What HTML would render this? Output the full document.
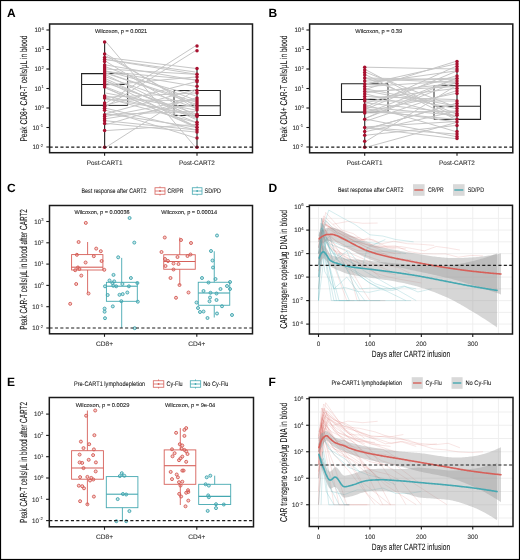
<!DOCTYPE html>
<html><head><meta charset="utf-8"><style>
html,body{margin:0;padding:0;background:#fff;}
svg{display:block;font-family:"Liberation Sans", sans-serif;will-change:transform;}
text{stroke-linejoin:round;text-rendering:geometricPrecision;}
.fr{position:absolute;left:0;top:0;width:518px;height:558px;border:1px solid #000;}
</style></head><body>
<svg width="520" height="560" viewBox="0 0 520 560" font-family='"Liberation Sans", sans-serif'>
<rect x="0" y="0" width="520" height="560" fill="#fff"/>
<text x="7.00" y="17.00" font-size="12" text-anchor="start" fill="#000" font-weight="bold">A</text>
<text x="26.80" y="88.60" font-size="9.8" text-anchor="middle" fill="#111" stroke="#111" stroke-width="0.08" textLength="106.0" lengthAdjust="spacingAndGlyphs" transform="rotate(-90 26.80 88.60)">Peak CD8+ CAR-T cells/μL in blood</text>
<line x1="46.40" y1="147.00" x2="49.60" y2="147.00" stroke="#1a1a1a" stroke-width="1.1"/>
<text x="39.30" y="149.30" font-size="6.3" text-anchor="end" fill="#333" stroke="#333" stroke-width="0.12" textLength="6.9" lengthAdjust="spacingAndGlyphs">10</text>
<text x="39.40" y="146.80" font-size="4.2" text-anchor="start" fill="#333" stroke="#333" stroke-width="0.08">-2</text>
<line x1="46.40" y1="127.50" x2="49.60" y2="127.50" stroke="#1a1a1a" stroke-width="1.1"/>
<text x="39.30" y="129.80" font-size="6.3" text-anchor="end" fill="#333" stroke="#333" stroke-width="0.12" textLength="6.9" lengthAdjust="spacingAndGlyphs">10</text>
<text x="39.40" y="127.30" font-size="4.2" text-anchor="start" fill="#333" stroke="#333" stroke-width="0.08">-1</text>
<line x1="46.40" y1="108.00" x2="49.60" y2="108.00" stroke="#1a1a1a" stroke-width="1.1"/>
<text x="41.30" y="110.30" font-size="6.3" text-anchor="end" fill="#333" stroke="#333" stroke-width="0.12" textLength="6.9" lengthAdjust="spacingAndGlyphs">10</text>
<text x="41.40" y="107.80" font-size="4.2" text-anchor="start" fill="#333" stroke="#333" stroke-width="0.08">0</text>
<line x1="46.40" y1="88.50" x2="49.60" y2="88.50" stroke="#1a1a1a" stroke-width="1.1"/>
<text x="41.30" y="90.80" font-size="6.3" text-anchor="end" fill="#333" stroke="#333" stroke-width="0.12" textLength="6.9" lengthAdjust="spacingAndGlyphs">10</text>
<text x="41.40" y="88.30" font-size="4.2" text-anchor="start" fill="#333" stroke="#333" stroke-width="0.08">1</text>
<line x1="46.40" y1="69.00" x2="49.60" y2="69.00" stroke="#1a1a1a" stroke-width="1.1"/>
<text x="41.30" y="71.30" font-size="6.3" text-anchor="end" fill="#333" stroke="#333" stroke-width="0.12" textLength="6.9" lengthAdjust="spacingAndGlyphs">10</text>
<text x="41.40" y="68.80" font-size="4.2" text-anchor="start" fill="#333" stroke="#333" stroke-width="0.08">2</text>
<line x1="46.40" y1="49.50" x2="49.60" y2="49.50" stroke="#1a1a1a" stroke-width="1.1"/>
<text x="41.30" y="51.80" font-size="6.3" text-anchor="end" fill="#333" stroke="#333" stroke-width="0.12" textLength="6.9" lengthAdjust="spacingAndGlyphs">10</text>
<text x="41.40" y="49.30" font-size="4.2" text-anchor="start" fill="#333" stroke="#333" stroke-width="0.08">3</text>
<line x1="46.40" y1="30.00" x2="49.60" y2="30.00" stroke="#1a1a1a" stroke-width="1.1"/>
<text x="41.30" y="32.30" font-size="6.3" text-anchor="end" fill="#333" stroke="#333" stroke-width="0.12" textLength="6.9" lengthAdjust="spacingAndGlyphs">10</text>
<text x="41.40" y="29.80" font-size="4.2" text-anchor="start" fill="#333" stroke="#333" stroke-width="0.08">4</text>
<line x1="104.60" y1="152.70" x2="104.60" y2="155.70" stroke="#1a1a1a" stroke-width="1.1"/>
<text x="104.60" y="164.60" font-size="6.5" text-anchor="middle" fill="#333" stroke="#333" stroke-width="0.1" textLength="35.8" lengthAdjust="spacingAndGlyphs">Post-CART1</text>
<line x1="197.00" y1="152.70" x2="197.00" y2="155.70" stroke="#1a1a1a" stroke-width="1.1"/>
<text x="197.00" y="164.60" font-size="6.5" text-anchor="middle" fill="#333" stroke="#333" stroke-width="0.1" textLength="35.8" lengthAdjust="spacingAndGlyphs">Post-CART2</text>
<path d="M104.60,73.60 H81.60 V105.40 H104.60 M81.60,84.50 H104.60" stroke="#222" stroke-width="1.1" fill="none"/>
<path d="M104.60,73.60 H127.70 V105.40 H104.60 M104.60,84.50 H127.70" stroke="#2a2a2a" stroke-width="1.0" fill="none"/>
<path d="M197.00,90.50 H220.30 V115.50 H197.00 M220.30,105.70 H197.00" stroke="#222" stroke-width="1.1" fill="none"/>
<path d="M197.00,90.50 H174.00 V115.50 H197.00 M197.00,105.70 H174.00" stroke="#2a2a2a" stroke-width="1.0" fill="none"/>
<line x1="104.60" y1="42.00" x2="104.60" y2="147.20" stroke="#333" stroke-width="1.2"/>
<line x1="197.00" y1="68.40" x2="197.00" y2="147.20" stroke="#333" stroke-width="1.2"/>
<path d="M106.10,42.00L195.50,147.20M106.10,147.20L195.50,90.00M106.10,103.00L195.50,45.90M106.10,106.50L195.50,50.70M106.10,57.50L195.50,68.40M106.10,59.50L195.50,72.02M106.10,59.59L195.50,74.16M106.10,69.00L195.50,74.30M106.10,85.00L195.50,77.00M106.10,71.66L195.50,79.79M106.10,65.00L195.50,80.20M106.10,105.00L195.50,81.80M106.10,71.40L195.50,86.30M106.10,113.55L195.50,89.58M106.10,97.27L195.50,93.00M106.10,71.00L195.50,95.67M106.10,124.70L195.50,98.00M106.10,116.40L195.50,98.90M106.10,67.00L195.50,100.00M106.10,99.73L195.50,100.73M106.10,73.00L195.50,102.00M106.10,73.15L195.50,104.00M106.10,118.70L195.50,104.01M106.10,55.92L195.50,106.00M106.10,77.00L195.50,108.00M106.10,54.00L195.50,108.42M106.10,93.10L195.50,110.00M106.10,114.70L195.50,111.27M106.10,83.00L195.50,113.64M106.10,98.80L195.50,114.30M106.10,61.50L195.50,116.40M106.10,96.00L195.50,116.42M106.10,80.90L195.50,116.72M106.10,75.00L195.50,118.18M106.10,79.00L195.50,119.28M106.10,87.00L195.50,122.06M106.10,98.00L195.50,122.30M106.10,130.60L195.50,124.50M106.10,88.34L195.50,126.26M106.10,81.00L195.50,126.42M106.10,87.92L195.50,127.12M106.10,113.62L195.50,127.20M106.10,108.30L195.50,129.80M106.10,120.80L195.50,129.87M106.10,123.40L195.50,132.00M106.10,110.30L195.50,137.90" stroke="#c6c6c6" stroke-width="1.0" fill="none"/>
<circle cx="104.60" cy="42.00" r="1.75" fill="#A8102F" stroke="none" stroke-width="1"/>
<circle cx="104.60" cy="54.00" r="1.75" fill="#A8102F" stroke="none" stroke-width="1"/>
<circle cx="104.60" cy="57.50" r="1.75" fill="#A8102F" stroke="none" stroke-width="1"/>
<circle cx="104.60" cy="59.50" r="1.75" fill="#A8102F" stroke="none" stroke-width="1"/>
<circle cx="104.60" cy="61.50" r="1.75" fill="#A8102F" stroke="none" stroke-width="1"/>
<circle cx="104.60" cy="65.00" r="1.75" fill="#A8102F" stroke="none" stroke-width="1"/>
<circle cx="104.60" cy="67.00" r="1.75" fill="#A8102F" stroke="none" stroke-width="1"/>
<circle cx="104.60" cy="69.00" r="1.75" fill="#A8102F" stroke="none" stroke-width="1"/>
<circle cx="104.60" cy="71.00" r="1.75" fill="#A8102F" stroke="none" stroke-width="1"/>
<circle cx="104.60" cy="73.00" r="1.75" fill="#A8102F" stroke="none" stroke-width="1"/>
<circle cx="104.60" cy="75.00" r="1.75" fill="#A8102F" stroke="none" stroke-width="1"/>
<circle cx="104.60" cy="77.00" r="1.75" fill="#A8102F" stroke="none" stroke-width="1"/>
<circle cx="104.60" cy="79.00" r="1.75" fill="#A8102F" stroke="none" stroke-width="1"/>
<circle cx="104.60" cy="81.00" r="1.75" fill="#A8102F" stroke="none" stroke-width="1"/>
<circle cx="104.60" cy="83.00" r="1.75" fill="#A8102F" stroke="none" stroke-width="1"/>
<circle cx="104.60" cy="85.00" r="1.75" fill="#A8102F" stroke="none" stroke-width="1"/>
<circle cx="104.60" cy="87.00" r="1.75" fill="#A8102F" stroke="none" stroke-width="1"/>
<circle cx="104.60" cy="96.00" r="1.75" fill="#A8102F" stroke="none" stroke-width="1"/>
<circle cx="104.60" cy="98.00" r="1.75" fill="#A8102F" stroke="none" stroke-width="1"/>
<circle cx="104.60" cy="103.00" r="1.75" fill="#A8102F" stroke="none" stroke-width="1"/>
<circle cx="104.60" cy="105.00" r="1.75" fill="#A8102F" stroke="none" stroke-width="1"/>
<circle cx="104.60" cy="106.50" r="1.75" fill="#A8102F" stroke="none" stroke-width="1"/>
<circle cx="104.60" cy="108.30" r="1.75" fill="#A8102F" stroke="none" stroke-width="1"/>
<circle cx="104.60" cy="110.30" r="1.75" fill="#A8102F" stroke="none" stroke-width="1"/>
<circle cx="104.60" cy="114.70" r="1.75" fill="#A8102F" stroke="none" stroke-width="1"/>
<circle cx="104.60" cy="116.40" r="1.75" fill="#A8102F" stroke="none" stroke-width="1"/>
<circle cx="104.60" cy="118.70" r="1.75" fill="#A8102F" stroke="none" stroke-width="1"/>
<circle cx="104.60" cy="120.80" r="1.75" fill="#A8102F" stroke="none" stroke-width="1"/>
<circle cx="104.60" cy="123.40" r="1.75" fill="#A8102F" stroke="none" stroke-width="1"/>
<circle cx="104.60" cy="130.60" r="1.75" fill="#A8102F" stroke="none" stroke-width="1"/>
<circle cx="104.60" cy="147.20" r="1.75" fill="#A8102F" stroke="none" stroke-width="1"/>
<circle cx="197.00" cy="45.90" r="1.75" fill="#A8102F" stroke="none" stroke-width="1"/>
<circle cx="197.00" cy="50.70" r="1.75" fill="#A8102F" stroke="none" stroke-width="1"/>
<circle cx="197.00" cy="68.40" r="1.75" fill="#A8102F" stroke="none" stroke-width="1"/>
<circle cx="197.00" cy="74.30" r="1.75" fill="#A8102F" stroke="none" stroke-width="1"/>
<circle cx="197.00" cy="77.00" r="1.75" fill="#A8102F" stroke="none" stroke-width="1"/>
<circle cx="197.00" cy="80.20" r="1.75" fill="#A8102F" stroke="none" stroke-width="1"/>
<circle cx="197.00" cy="81.80" r="1.75" fill="#A8102F" stroke="none" stroke-width="1"/>
<circle cx="197.00" cy="86.30" r="1.75" fill="#A8102F" stroke="none" stroke-width="1"/>
<circle cx="197.00" cy="90.40" r="1.75" fill="#A8102F" stroke="none" stroke-width="1"/>
<circle cx="197.00" cy="93.00" r="1.75" fill="#A8102F" stroke="none" stroke-width="1"/>
<circle cx="197.00" cy="98.00" r="1.75" fill="#A8102F" stroke="none" stroke-width="1"/>
<circle cx="197.00" cy="100.00" r="1.75" fill="#A8102F" stroke="none" stroke-width="1"/>
<circle cx="197.00" cy="102.00" r="1.75" fill="#A8102F" stroke="none" stroke-width="1"/>
<circle cx="197.00" cy="104.00" r="1.75" fill="#A8102F" stroke="none" stroke-width="1"/>
<circle cx="197.00" cy="106.00" r="1.75" fill="#A8102F" stroke="none" stroke-width="1"/>
<circle cx="197.00" cy="108.00" r="1.75" fill="#A8102F" stroke="none" stroke-width="1"/>
<circle cx="197.00" cy="110.00" r="1.75" fill="#A8102F" stroke="none" stroke-width="1"/>
<circle cx="197.00" cy="114.30" r="1.75" fill="#A8102F" stroke="none" stroke-width="1"/>
<circle cx="197.00" cy="116.40" r="1.75" fill="#A8102F" stroke="none" stroke-width="1"/>
<circle cx="197.00" cy="122.30" r="1.75" fill="#A8102F" stroke="none" stroke-width="1"/>
<circle cx="197.00" cy="124.50" r="1.75" fill="#A8102F" stroke="none" stroke-width="1"/>
<circle cx="197.00" cy="127.20" r="1.75" fill="#A8102F" stroke="none" stroke-width="1"/>
<circle cx="197.00" cy="129.80" r="1.75" fill="#A8102F" stroke="none" stroke-width="1"/>
<circle cx="197.00" cy="132.00" r="1.75" fill="#A8102F" stroke="none" stroke-width="1"/>
<circle cx="197.00" cy="137.90" r="1.75" fill="#A8102F" stroke="none" stroke-width="1"/>
<circle cx="197.00" cy="147.20" r="1.75" fill="#A8102F" stroke="none" stroke-width="1"/>
<line x1="49.60" y1="147.10" x2="252.50" y2="147.10" stroke="#1a1a1a" stroke-width="1.15" stroke-dasharray="3.1 2.3"/>
<rect x="49.60" y="24.00" width="202.90" height="128.70" stroke="#1a1a1a" stroke-width="1.5" fill="none"/>
<text x="95.10" y="32.60" font-size="5.6" text-anchor="start" fill="#222" stroke="#222" stroke-width="0.1" textLength="52.1" lengthAdjust="spacingAndGlyphs">Wilcoxon, p = 0.0021</text>
<text x="268.50" y="17.00" font-size="12" text-anchor="start" fill="#000" font-weight="bold">B</text>
<text x="286.80" y="88.60" font-size="9.8" text-anchor="middle" fill="#111" stroke="#111" stroke-width="0.08" textLength="106.0" lengthAdjust="spacingAndGlyphs" transform="rotate(-90 286.80 88.60)">Peak CD4+ CAR-T cells/μL in blood</text>
<line x1="306.40" y1="147.00" x2="309.60" y2="147.00" stroke="#1a1a1a" stroke-width="1.1"/>
<text x="299.30" y="149.30" font-size="6.3" text-anchor="end" fill="#333" stroke="#333" stroke-width="0.12" textLength="6.9" lengthAdjust="spacingAndGlyphs">10</text>
<text x="299.40" y="146.80" font-size="4.2" text-anchor="start" fill="#333" stroke="#333" stroke-width="0.08">-2</text>
<line x1="306.40" y1="127.50" x2="309.60" y2="127.50" stroke="#1a1a1a" stroke-width="1.1"/>
<text x="299.30" y="129.80" font-size="6.3" text-anchor="end" fill="#333" stroke="#333" stroke-width="0.12" textLength="6.9" lengthAdjust="spacingAndGlyphs">10</text>
<text x="299.40" y="127.30" font-size="4.2" text-anchor="start" fill="#333" stroke="#333" stroke-width="0.08">-1</text>
<line x1="306.40" y1="108.00" x2="309.60" y2="108.00" stroke="#1a1a1a" stroke-width="1.1"/>
<text x="301.30" y="110.30" font-size="6.3" text-anchor="end" fill="#333" stroke="#333" stroke-width="0.12" textLength="6.9" lengthAdjust="spacingAndGlyphs">10</text>
<text x="301.40" y="107.80" font-size="4.2" text-anchor="start" fill="#333" stroke="#333" stroke-width="0.08">0</text>
<line x1="306.40" y1="88.50" x2="309.60" y2="88.50" stroke="#1a1a1a" stroke-width="1.1"/>
<text x="301.30" y="90.80" font-size="6.3" text-anchor="end" fill="#333" stroke="#333" stroke-width="0.12" textLength="6.9" lengthAdjust="spacingAndGlyphs">10</text>
<text x="301.40" y="88.30" font-size="4.2" text-anchor="start" fill="#333" stroke="#333" stroke-width="0.08">1</text>
<line x1="306.40" y1="69.00" x2="309.60" y2="69.00" stroke="#1a1a1a" stroke-width="1.1"/>
<text x="301.30" y="71.30" font-size="6.3" text-anchor="end" fill="#333" stroke="#333" stroke-width="0.12" textLength="6.9" lengthAdjust="spacingAndGlyphs">10</text>
<text x="301.40" y="68.80" font-size="4.2" text-anchor="start" fill="#333" stroke="#333" stroke-width="0.08">2</text>
<line x1="306.40" y1="49.50" x2="309.60" y2="49.50" stroke="#1a1a1a" stroke-width="1.1"/>
<text x="301.30" y="51.80" font-size="6.3" text-anchor="end" fill="#333" stroke="#333" stroke-width="0.12" textLength="6.9" lengthAdjust="spacingAndGlyphs">10</text>
<text x="301.40" y="49.30" font-size="4.2" text-anchor="start" fill="#333" stroke="#333" stroke-width="0.08">3</text>
<line x1="306.40" y1="30.00" x2="309.60" y2="30.00" stroke="#1a1a1a" stroke-width="1.1"/>
<text x="301.30" y="32.30" font-size="6.3" text-anchor="end" fill="#333" stroke="#333" stroke-width="0.12" textLength="6.9" lengthAdjust="spacingAndGlyphs">10</text>
<text x="301.40" y="29.80" font-size="4.2" text-anchor="start" fill="#333" stroke="#333" stroke-width="0.08">4</text>
<line x1="364.70" y1="152.80" x2="364.70" y2="155.80" stroke="#1a1a1a" stroke-width="1.1"/>
<text x="364.70" y="164.60" font-size="6.5" text-anchor="middle" fill="#333" stroke="#333" stroke-width="0.1" textLength="35.8" lengthAdjust="spacingAndGlyphs">Post-CART1</text>
<line x1="457.00" y1="152.80" x2="457.00" y2="155.80" stroke="#1a1a1a" stroke-width="1.1"/>
<text x="457.00" y="164.60" font-size="6.5" text-anchor="middle" fill="#333" stroke="#333" stroke-width="0.1" textLength="35.8" lengthAdjust="spacingAndGlyphs">Post-CART2</text>
<path d="M364.70,83.80 H341.50 V112.10 H364.70 M341.50,99.50 H364.70" stroke="#222" stroke-width="1.1" fill="none"/>
<path d="M364.70,83.80 H388.00 V112.10 H364.70 M364.70,99.50 H388.00" stroke="#2a2a2a" stroke-width="1.0" fill="none"/>
<path d="M457.00,85.70 H480.50 V119.40 H457.00 M480.50,106.30 H457.00" stroke="#222" stroke-width="1.1" fill="none"/>
<path d="M457.00,85.70 H434.00 V119.40 H457.00 M457.00,106.30 H434.00" stroke="#2a2a2a" stroke-width="1.0" fill="none"/>
<line x1="364.70" y1="67.20" x2="364.70" y2="147.30" stroke="#333" stroke-width="1.2"/>
<line x1="457.00" y1="61.50" x2="457.00" y2="138.60" stroke="#333" stroke-width="1.2"/>
<path d="M366.20,89.14L455.50,61.50M366.20,84.00L455.50,64.00M366.20,107.00L455.50,66.50M366.20,67.20L455.50,69.00M366.20,83.44L455.50,71.00M366.20,109.00L455.50,71.59M366.20,103.05L455.50,76.00M366.20,81.00L455.50,78.10M366.20,113.00L455.50,78.50M366.20,117.97L455.50,78.73M366.20,78.00L455.50,79.82M366.20,86.50L455.50,81.00M366.20,78.80L455.50,82.41M366.20,118.07L455.50,82.73M366.20,92.60L455.50,83.50M366.20,141.20L455.50,86.00M366.20,91.50L455.50,86.57M366.20,99.00L455.50,88.50M366.20,121.02L455.50,91.00M366.20,111.52L455.50,93.50M366.20,96.50L455.50,99.59M366.20,101.00L455.50,101.00M366.20,129.13L455.50,103.50M366.20,129.18L455.50,103.67M366.20,89.00L455.50,106.00M366.20,72.50L455.50,106.81M366.20,90.79L455.50,108.50M366.20,112.96L455.50,111.00M366.20,131.50L455.50,111.39M366.20,102.86L455.50,113.03M366.20,77.92L455.50,113.50M366.20,107.16L455.50,115.30M366.20,94.00L455.50,116.90M366.20,70.00L455.50,116.95M366.20,75.00L455.50,119.24M366.20,111.00L455.50,119.30M366.20,126.84L455.50,121.59M366.20,108.82L455.50,122.00M366.20,147.30L455.50,122.68M366.20,135.20L455.50,125.50M366.20,105.00L455.50,131.50M366.20,127.50L455.50,134.00M366.20,119.20L455.50,136.50M366.20,128.02L455.50,138.60" stroke="#c6c6c6" stroke-width="1.0" fill="none"/>
<circle cx="364.70" cy="67.20" r="1.75" fill="#A8102F" stroke="none" stroke-width="1"/>
<circle cx="364.70" cy="70.00" r="1.75" fill="#A8102F" stroke="none" stroke-width="1"/>
<circle cx="364.70" cy="72.50" r="1.75" fill="#A8102F" stroke="none" stroke-width="1"/>
<circle cx="364.70" cy="75.00" r="1.75" fill="#A8102F" stroke="none" stroke-width="1"/>
<circle cx="364.70" cy="78.00" r="1.75" fill="#A8102F" stroke="none" stroke-width="1"/>
<circle cx="364.70" cy="81.00" r="1.75" fill="#A8102F" stroke="none" stroke-width="1"/>
<circle cx="364.70" cy="84.00" r="1.75" fill="#A8102F" stroke="none" stroke-width="1"/>
<circle cx="364.70" cy="86.50" r="1.75" fill="#A8102F" stroke="none" stroke-width="1"/>
<circle cx="364.70" cy="89.00" r="1.75" fill="#A8102F" stroke="none" stroke-width="1"/>
<circle cx="364.70" cy="91.50" r="1.75" fill="#A8102F" stroke="none" stroke-width="1"/>
<circle cx="364.70" cy="94.00" r="1.75" fill="#A8102F" stroke="none" stroke-width="1"/>
<circle cx="364.70" cy="96.50" r="1.75" fill="#A8102F" stroke="none" stroke-width="1"/>
<circle cx="364.70" cy="99.00" r="1.75" fill="#A8102F" stroke="none" stroke-width="1"/>
<circle cx="364.70" cy="101.00" r="1.75" fill="#A8102F" stroke="none" stroke-width="1"/>
<circle cx="364.70" cy="105.00" r="1.75" fill="#A8102F" stroke="none" stroke-width="1"/>
<circle cx="364.70" cy="107.00" r="1.75" fill="#A8102F" stroke="none" stroke-width="1"/>
<circle cx="364.70" cy="109.00" r="1.75" fill="#A8102F" stroke="none" stroke-width="1"/>
<circle cx="364.70" cy="111.00" r="1.75" fill="#A8102F" stroke="none" stroke-width="1"/>
<circle cx="364.70" cy="113.00" r="1.75" fill="#A8102F" stroke="none" stroke-width="1"/>
<circle cx="364.70" cy="119.20" r="1.75" fill="#A8102F" stroke="none" stroke-width="1"/>
<circle cx="364.70" cy="127.50" r="1.75" fill="#A8102F" stroke="none" stroke-width="1"/>
<circle cx="364.70" cy="131.50" r="1.75" fill="#A8102F" stroke="none" stroke-width="1"/>
<circle cx="364.70" cy="135.20" r="1.75" fill="#A8102F" stroke="none" stroke-width="1"/>
<circle cx="364.70" cy="141.20" r="1.75" fill="#A8102F" stroke="none" stroke-width="1"/>
<circle cx="364.70" cy="147.30" r="1.75" fill="#A8102F" stroke="none" stroke-width="1"/>
<circle cx="457.00" cy="61.50" r="1.75" fill="#A8102F" stroke="none" stroke-width="1"/>
<circle cx="457.00" cy="64.00" r="1.75" fill="#A8102F" stroke="none" stroke-width="1"/>
<circle cx="457.00" cy="66.50" r="1.75" fill="#A8102F" stroke="none" stroke-width="1"/>
<circle cx="457.00" cy="69.00" r="1.75" fill="#A8102F" stroke="none" stroke-width="1"/>
<circle cx="457.00" cy="71.00" r="1.75" fill="#A8102F" stroke="none" stroke-width="1"/>
<circle cx="457.00" cy="76.00" r="1.75" fill="#A8102F" stroke="none" stroke-width="1"/>
<circle cx="457.00" cy="78.50" r="1.75" fill="#A8102F" stroke="none" stroke-width="1"/>
<circle cx="457.00" cy="81.00" r="1.75" fill="#A8102F" stroke="none" stroke-width="1"/>
<circle cx="457.00" cy="83.50" r="1.75" fill="#A8102F" stroke="none" stroke-width="1"/>
<circle cx="457.00" cy="86.00" r="1.75" fill="#A8102F" stroke="none" stroke-width="1"/>
<circle cx="457.00" cy="88.50" r="1.75" fill="#A8102F" stroke="none" stroke-width="1"/>
<circle cx="457.00" cy="91.00" r="1.75" fill="#A8102F" stroke="none" stroke-width="1"/>
<circle cx="457.00" cy="93.50" r="1.75" fill="#A8102F" stroke="none" stroke-width="1"/>
<circle cx="457.00" cy="101.00" r="1.75" fill="#A8102F" stroke="none" stroke-width="1"/>
<circle cx="457.00" cy="103.50" r="1.75" fill="#A8102F" stroke="none" stroke-width="1"/>
<circle cx="457.00" cy="106.00" r="1.75" fill="#A8102F" stroke="none" stroke-width="1"/>
<circle cx="457.00" cy="108.50" r="1.75" fill="#A8102F" stroke="none" stroke-width="1"/>
<circle cx="457.00" cy="111.00" r="1.75" fill="#A8102F" stroke="none" stroke-width="1"/>
<circle cx="457.00" cy="113.50" r="1.75" fill="#A8102F" stroke="none" stroke-width="1"/>
<circle cx="457.00" cy="115.30" r="1.75" fill="#A8102F" stroke="none" stroke-width="1"/>
<circle cx="457.00" cy="119.30" r="1.75" fill="#A8102F" stroke="none" stroke-width="1"/>
<circle cx="457.00" cy="122.00" r="1.75" fill="#A8102F" stroke="none" stroke-width="1"/>
<circle cx="457.00" cy="125.50" r="1.75" fill="#A8102F" stroke="none" stroke-width="1"/>
<circle cx="457.00" cy="131.50" r="1.75" fill="#A8102F" stroke="none" stroke-width="1"/>
<circle cx="457.00" cy="134.00" r="1.75" fill="#A8102F" stroke="none" stroke-width="1"/>
<circle cx="457.00" cy="136.50" r="1.75" fill="#A8102F" stroke="none" stroke-width="1"/>
<circle cx="457.00" cy="138.60" r="1.75" fill="#A8102F" stroke="none" stroke-width="1"/>
<line x1="309.60" y1="147.10" x2="512.80" y2="147.10" stroke="#1a1a1a" stroke-width="1.15" stroke-dasharray="3.1 2.3"/>
<rect x="309.60" y="24.00" width="203.20" height="128.80" stroke="#1a1a1a" stroke-width="1.5" fill="none"/>
<text x="355.30" y="32.60" font-size="5.6" text-anchor="start" fill="#222" stroke="#222" stroke-width="0.1" textLength="46.9" lengthAdjust="spacingAndGlyphs">Wilcoxon, p = 0.39</text>
<text x="7.00" y="192.00" font-size="12" text-anchor="start" fill="#000" font-weight="bold">C</text>
<text x="81.50" y="193.20" font-size="6.6" text-anchor="start" fill="#111" stroke="#111" stroke-width="0.06" textLength="65.0" lengthAdjust="spacingAndGlyphs">Best response after CART2</text>
<rect x="155.00" y="187.75" width="10.00" height="6.50" stroke="#d6605a" stroke-width="0.8" fill="none"/>
<line x1="155.00" y1="191.00" x2="165.00" y2="191.00" stroke="#d6605a" stroke-width="0.8"/>
<line x1="160.00" y1="186.45" x2="160.00" y2="187.75" stroke="#d6605a" stroke-width="0.8"/>
<line x1="160.00" y1="194.25" x2="160.00" y2="195.55" stroke="#d6605a" stroke-width="0.8"/>
<circle cx="160.00" cy="191.00" r="0.9" fill="#d6605a" stroke="none" stroke-width="1"/>
<text x="167.40" y="193.20" font-size="6.6" text-anchor="start" fill="#111" stroke="#111" stroke-width="0.06" textLength="16.1" lengthAdjust="spacingAndGlyphs">CR/PR</text>
<rect x="192.30" y="187.75" width="9.70" height="6.50" stroke="#45a8b1" stroke-width="0.8" fill="none"/>
<line x1="192.30" y1="191.00" x2="202.00" y2="191.00" stroke="#45a8b1" stroke-width="0.8"/>
<line x1="197.15" y1="186.45" x2="197.15" y2="187.75" stroke="#45a8b1" stroke-width="0.8"/>
<line x1="197.15" y1="194.25" x2="197.15" y2="195.55" stroke="#45a8b1" stroke-width="0.8"/>
<circle cx="197.15" cy="191.00" r="0.9" fill="#45a8b1" stroke="none" stroke-width="1"/>
<text x="204.60" y="193.20" font-size="6.6" text-anchor="start" fill="#111" stroke="#111" stroke-width="0.06" textLength="16.4" lengthAdjust="spacingAndGlyphs">SD/PD</text>
<text x="26.70" y="269.45" font-size="10.3" text-anchor="middle" fill="#111" stroke="#111" stroke-width="0.08" textLength="120.7" lengthAdjust="spacingAndGlyphs" transform="rotate(-90 26.70 269.45)">Peak CAR-T cells/μL in blood after CART2</text>
<line x1="46.30" y1="328.00" x2="49.50" y2="328.00" stroke="#1a1a1a" stroke-width="1.1"/>
<text x="39.20" y="330.30" font-size="6.3" text-anchor="end" fill="#333" stroke="#333" stroke-width="0.12" textLength="6.9" lengthAdjust="spacingAndGlyphs">10</text>
<text x="39.30" y="327.80" font-size="4.2" text-anchor="start" fill="#333" stroke="#333" stroke-width="0.08">-2</text>
<line x1="46.30" y1="306.70" x2="49.50" y2="306.70" stroke="#1a1a1a" stroke-width="1.1"/>
<text x="39.20" y="309.00" font-size="6.3" text-anchor="end" fill="#333" stroke="#333" stroke-width="0.12" textLength="6.9" lengthAdjust="spacingAndGlyphs">10</text>
<text x="39.30" y="306.50" font-size="4.2" text-anchor="start" fill="#333" stroke="#333" stroke-width="0.08">-1</text>
<line x1="46.30" y1="285.40" x2="49.50" y2="285.40" stroke="#1a1a1a" stroke-width="1.1"/>
<text x="41.20" y="287.70" font-size="6.3" text-anchor="end" fill="#333" stroke="#333" stroke-width="0.12" textLength="6.9" lengthAdjust="spacingAndGlyphs">10</text>
<text x="41.30" y="285.20" font-size="4.2" text-anchor="start" fill="#333" stroke="#333" stroke-width="0.08">0</text>
<line x1="46.30" y1="264.10" x2="49.50" y2="264.10" stroke="#1a1a1a" stroke-width="1.1"/>
<text x="41.20" y="266.40" font-size="6.3" text-anchor="end" fill="#333" stroke="#333" stroke-width="0.12" textLength="6.9" lengthAdjust="spacingAndGlyphs">10</text>
<text x="41.30" y="263.90" font-size="4.2" text-anchor="start" fill="#333" stroke="#333" stroke-width="0.08">1</text>
<line x1="46.30" y1="242.80" x2="49.50" y2="242.80" stroke="#1a1a1a" stroke-width="1.1"/>
<text x="41.20" y="245.10" font-size="6.3" text-anchor="end" fill="#333" stroke="#333" stroke-width="0.12" textLength="6.9" lengthAdjust="spacingAndGlyphs">10</text>
<text x="41.30" y="242.60" font-size="4.2" text-anchor="start" fill="#333" stroke="#333" stroke-width="0.08">2</text>
<line x1="46.30" y1="221.50" x2="49.50" y2="221.50" stroke="#1a1a1a" stroke-width="1.1"/>
<text x="41.20" y="223.80" font-size="6.3" text-anchor="end" fill="#333" stroke="#333" stroke-width="0.12" textLength="6.9" lengthAdjust="spacingAndGlyphs">10</text>
<text x="41.30" y="221.30" font-size="4.2" text-anchor="start" fill="#333" stroke="#333" stroke-width="0.08">3</text>
<line x1="104.50" y1="333.80" x2="104.50" y2="336.80" stroke="#1a1a1a" stroke-width="1.1"/>
<text x="104.50" y="345.80" font-size="6.5" text-anchor="middle" fill="#333" stroke="#333" stroke-width="0.1" textLength="17.0" lengthAdjust="spacingAndGlyphs">CD8+</text>
<line x1="196.80" y1="333.80" x2="196.80" y2="336.80" stroke="#1a1a1a" stroke-width="1.1"/>
<text x="196.80" y="345.80" font-size="6.5" text-anchor="middle" fill="#333" stroke="#333" stroke-width="0.1" textLength="17.0" lengthAdjust="spacingAndGlyphs">CD4+</text>
<line x1="87.60" y1="242.00" x2="87.60" y2="254.60" stroke="#d6605a" stroke-width="0.9"/>
<line x1="87.60" y1="270.00" x2="87.60" y2="293.20" stroke="#d6605a" stroke-width="0.9"/>
<rect x="71.60" y="254.60" width="31.30" height="15.40" stroke="#d6605a" stroke-width="0.9" fill="none"/>
<line x1="71.60" y1="267.20" x2="102.90" y2="267.20" stroke="#d6605a" stroke-width="1.1"/>
<line x1="121.70" y1="257.90" x2="121.70" y2="282.30" stroke="#45a8b1" stroke-width="0.9"/>
<line x1="121.70" y1="301.30" x2="121.70" y2="328.00" stroke="#45a8b1" stroke-width="0.9"/>
<rect x="106.40" y="282.30" width="30.90" height="19.00" stroke="#45a8b1" stroke-width="0.9" fill="none"/>
<line x1="106.40" y1="286.20" x2="137.30" y2="286.20" stroke="#45a8b1" stroke-width="1.1"/>
<line x1="179.75" y1="237.50" x2="179.75" y2="254.75" stroke="#d6605a" stroke-width="0.9"/>
<line x1="179.75" y1="269.25" x2="179.75" y2="285.00" stroke="#d6605a" stroke-width="0.9"/>
<rect x="163.75" y="254.75" width="31.50" height="14.50" stroke="#d6605a" stroke-width="0.9" fill="none"/>
<line x1="163.75" y1="261.50" x2="195.25" y2="261.50" stroke="#d6605a" stroke-width="1.1"/>
<line x1="214.25" y1="251.25" x2="214.25" y2="282.25" stroke="#45a8b1" stroke-width="0.9"/>
<line x1="214.25" y1="305.25" x2="214.25" y2="317.50" stroke="#45a8b1" stroke-width="0.9"/>
<rect x="198.25" y="282.25" width="31.50" height="23.00" stroke="#45a8b1" stroke-width="0.9" fill="none"/>
<line x1="198.25" y1="293.00" x2="229.75" y2="293.00" stroke="#45a8b1" stroke-width="1.1"/>
<circle cx="85.80" cy="222.90" r="1.5" fill="#d6605a" stroke="#d6605a" stroke-width="0.95" fill-opacity="0.3"/>
<circle cx="78.60" cy="242.00" r="1.5" fill="#d6605a" stroke="#d6605a" stroke-width="0.95" fill-opacity="0.3"/>
<circle cx="96.20" cy="248.60" r="1.5" fill="#d6605a" stroke="#d6605a" stroke-width="0.95" fill-opacity="0.3"/>
<circle cx="100.80" cy="251.20" r="1.5" fill="#d6605a" stroke="#d6605a" stroke-width="0.95" fill-opacity="0.3"/>
<circle cx="76.90" cy="254.80" r="1.5" fill="#d6605a" stroke="#d6605a" stroke-width="0.95" fill-opacity="0.3"/>
<circle cx="93.80" cy="256.20" r="1.5" fill="#d6605a" stroke="#d6605a" stroke-width="0.95" fill-opacity="0.3"/>
<circle cx="85.60" cy="262.50" r="1.5" fill="#d6605a" stroke="#d6605a" stroke-width="0.95" fill-opacity="0.3"/>
<circle cx="101.60" cy="261.00" r="1.5" fill="#d6605a" stroke="#d6605a" stroke-width="0.95" fill-opacity="0.3"/>
<circle cx="104.30" cy="269.80" r="1.5" fill="#d6605a" stroke="#d6605a" stroke-width="0.95" fill-opacity="0.3"/>
<circle cx="75.20" cy="270.20" r="1.5" fill="#d6605a" stroke="#d6605a" stroke-width="0.95" fill-opacity="0.3"/>
<circle cx="77.90" cy="267.50" r="1.5" fill="#d6605a" stroke="#d6605a" stroke-width="0.95" fill-opacity="0.3"/>
<circle cx="79.40" cy="269.00" r="1.5" fill="#d6605a" stroke="#d6605a" stroke-width="0.95" fill-opacity="0.3"/>
<circle cx="81.30" cy="275.60" r="1.5" fill="#d6605a" stroke="#d6605a" stroke-width="0.95" fill-opacity="0.3"/>
<circle cx="76.20" cy="284.00" r="1.5" fill="#d6605a" stroke="#d6605a" stroke-width="0.95" fill-opacity="0.3"/>
<circle cx="88.50" cy="293.50" r="1.5" fill="#d6605a" stroke="#d6605a" stroke-width="0.95" fill-opacity="0.3"/>
<circle cx="70.20" cy="303.80" r="1.5" fill="#d6605a" stroke="#d6605a" stroke-width="0.95" fill-opacity="0.3"/>
<circle cx="129.60" cy="218.00" r="1.5" fill="#45a8b1" stroke="#45a8b1" stroke-width="0.95" fill-opacity="0.3"/>
<circle cx="134.30" cy="242.60" r="1.5" fill="#45a8b1" stroke="#45a8b1" stroke-width="0.95" fill-opacity="0.3"/>
<circle cx="118.20" cy="257.30" r="1.5" fill="#45a8b1" stroke="#45a8b1" stroke-width="0.95" fill-opacity="0.3"/>
<circle cx="113.50" cy="274.90" r="1.5" fill="#45a8b1" stroke="#45a8b1" stroke-width="0.95" fill-opacity="0.3"/>
<circle cx="130.90" cy="278.00" r="1.5" fill="#45a8b1" stroke="#45a8b1" stroke-width="0.95" fill-opacity="0.3"/>
<circle cx="109.50" cy="280.50" r="1.5" fill="#45a8b1" stroke="#45a8b1" stroke-width="0.95" fill-opacity="0.3"/>
<circle cx="114.20" cy="281.40" r="1.5" fill="#45a8b1" stroke="#45a8b1" stroke-width="0.95" fill-opacity="0.3"/>
<circle cx="112.40" cy="283.00" r="1.5" fill="#45a8b1" stroke="#45a8b1" stroke-width="0.95" fill-opacity="0.3"/>
<circle cx="122.40" cy="284.00" r="1.5" fill="#45a8b1" stroke="#45a8b1" stroke-width="0.95" fill-opacity="0.3"/>
<circle cx="137.40" cy="283.00" r="1.5" fill="#45a8b1" stroke="#45a8b1" stroke-width="0.95" fill-opacity="0.3"/>
<circle cx="105.00" cy="286.30" r="1.5" fill="#45a8b1" stroke="#45a8b1" stroke-width="0.95" fill-opacity="0.3"/>
<circle cx="113.30" cy="285.80" r="1.5" fill="#45a8b1" stroke="#45a8b1" stroke-width="0.95" fill-opacity="0.3"/>
<circle cx="116.20" cy="286.30" r="1.5" fill="#45a8b1" stroke="#45a8b1" stroke-width="0.95" fill-opacity="0.3"/>
<circle cx="128.90" cy="286.30" r="1.5" fill="#45a8b1" stroke="#45a8b1" stroke-width="0.95" fill-opacity="0.3"/>
<circle cx="107.70" cy="295.00" r="1.5" fill="#45a8b1" stroke="#45a8b1" stroke-width="0.95" fill-opacity="0.3"/>
<circle cx="119.50" cy="294.80" r="1.5" fill="#45a8b1" stroke="#45a8b1" stroke-width="0.95" fill-opacity="0.3"/>
<circle cx="122.70" cy="294.10" r="1.5" fill="#45a8b1" stroke="#45a8b1" stroke-width="0.95" fill-opacity="0.3"/>
<circle cx="127.30" cy="292.50" r="1.5" fill="#45a8b1" stroke="#45a8b1" stroke-width="0.95" fill-opacity="0.3"/>
<circle cx="121.30" cy="301.20" r="1.5" fill="#45a8b1" stroke="#45a8b1" stroke-width="0.95" fill-opacity="0.3"/>
<circle cx="137.80" cy="301.70" r="1.5" fill="#45a8b1" stroke="#45a8b1" stroke-width="0.95" fill-opacity="0.3"/>
<circle cx="112.80" cy="306.40" r="1.5" fill="#45a8b1" stroke="#45a8b1" stroke-width="0.95" fill-opacity="0.3"/>
<circle cx="104.60" cy="308.60" r="1.5" fill="#45a8b1" stroke="#45a8b1" stroke-width="0.95" fill-opacity="0.3"/>
<circle cx="104.60" cy="311.70" r="1.5" fill="#45a8b1" stroke="#45a8b1" stroke-width="0.95" fill-opacity="0.3"/>
<circle cx="105.00" cy="318.20" r="1.5" fill="#45a8b1" stroke="#45a8b1" stroke-width="0.95" fill-opacity="0.3"/>
<circle cx="134.70" cy="328.20" r="1.5" fill="#45a8b1" stroke="#45a8b1" stroke-width="0.95" fill-opacity="0.3"/>
<circle cx="164.75" cy="237.50" r="1.5" fill="#d6605a" stroke="#d6605a" stroke-width="0.95" fill-opacity="0.3"/>
<circle cx="181.00" cy="240.00" r="1.5" fill="#d6605a" stroke="#d6605a" stroke-width="0.95" fill-opacity="0.3"/>
<circle cx="191.00" cy="243.00" r="1.5" fill="#d6605a" stroke="#d6605a" stroke-width="0.95" fill-opacity="0.3"/>
<circle cx="161.50" cy="252.00" r="1.5" fill="#d6605a" stroke="#d6605a" stroke-width="0.95" fill-opacity="0.3"/>
<circle cx="165.00" cy="259.00" r="1.5" fill="#d6605a" stroke="#d6605a" stroke-width="0.95" fill-opacity="0.3"/>
<circle cx="168.00" cy="261.00" r="1.5" fill="#d6605a" stroke="#d6605a" stroke-width="0.95" fill-opacity="0.3"/>
<circle cx="177.50" cy="257.00" r="1.5" fill="#d6605a" stroke="#d6605a" stroke-width="0.95" fill-opacity="0.3"/>
<circle cx="187.50" cy="256.00" r="1.5" fill="#d6605a" stroke="#d6605a" stroke-width="0.95" fill-opacity="0.3"/>
<circle cx="190.50" cy="254.50" r="1.5" fill="#d6605a" stroke="#d6605a" stroke-width="0.95" fill-opacity="0.3"/>
<circle cx="173.50" cy="263.50" r="1.5" fill="#d6605a" stroke="#d6605a" stroke-width="0.95" fill-opacity="0.3"/>
<circle cx="178.50" cy="264.00" r="1.5" fill="#d6605a" stroke="#d6605a" stroke-width="0.95" fill-opacity="0.3"/>
<circle cx="165.50" cy="266.00" r="1.5" fill="#d6605a" stroke="#d6605a" stroke-width="0.95" fill-opacity="0.3"/>
<circle cx="173.50" cy="269.50" r="1.5" fill="#d6605a" stroke="#d6605a" stroke-width="0.95" fill-opacity="0.3"/>
<circle cx="170.50" cy="278.00" r="1.5" fill="#d6605a" stroke="#d6605a" stroke-width="0.95" fill-opacity="0.3"/>
<circle cx="179.50" cy="285.00" r="1.5" fill="#d6605a" stroke="#d6605a" stroke-width="0.95" fill-opacity="0.3"/>
<circle cx="188.50" cy="292.50" r="1.5" fill="#d6605a" stroke="#d6605a" stroke-width="0.95" fill-opacity="0.3"/>
<circle cx="176.00" cy="297.75" r="1.5" fill="#d6605a" stroke="#d6605a" stroke-width="0.95" fill-opacity="0.3"/>
<circle cx="217.00" cy="235.50" r="1.5" fill="#45a8b1" stroke="#45a8b1" stroke-width="0.95" fill-opacity="0.3"/>
<circle cx="211.00" cy="251.00" r="1.5" fill="#45a8b1" stroke="#45a8b1" stroke-width="0.95" fill-opacity="0.3"/>
<circle cx="212.50" cy="260.50" r="1.5" fill="#45a8b1" stroke="#45a8b1" stroke-width="0.95" fill-opacity="0.3"/>
<circle cx="213.00" cy="267.50" r="1.5" fill="#45a8b1" stroke="#45a8b1" stroke-width="0.95" fill-opacity="0.3"/>
<circle cx="202.00" cy="278.00" r="1.5" fill="#45a8b1" stroke="#45a8b1" stroke-width="0.95" fill-opacity="0.3"/>
<circle cx="208.50" cy="282.50" r="1.5" fill="#45a8b1" stroke="#45a8b1" stroke-width="0.95" fill-opacity="0.3"/>
<circle cx="215.50" cy="279.00" r="1.5" fill="#45a8b1" stroke="#45a8b1" stroke-width="0.95" fill-opacity="0.3"/>
<circle cx="230.00" cy="282.00" r="1.5" fill="#45a8b1" stroke="#45a8b1" stroke-width="0.95" fill-opacity="0.3"/>
<circle cx="227.00" cy="286.00" r="1.5" fill="#45a8b1" stroke="#45a8b1" stroke-width="0.95" fill-opacity="0.3"/>
<circle cx="220.50" cy="289.00" r="1.5" fill="#45a8b1" stroke="#45a8b1" stroke-width="0.95" fill-opacity="0.3"/>
<circle cx="230.00" cy="289.00" r="1.5" fill="#45a8b1" stroke="#45a8b1" stroke-width="0.95" fill-opacity="0.3"/>
<circle cx="203.50" cy="291.00" r="1.5" fill="#45a8b1" stroke="#45a8b1" stroke-width="0.95" fill-opacity="0.3"/>
<circle cx="210.50" cy="292.75" r="1.5" fill="#45a8b1" stroke="#45a8b1" stroke-width="0.95" fill-opacity="0.3"/>
<circle cx="216.50" cy="293.50" r="1.5" fill="#45a8b1" stroke="#45a8b1" stroke-width="0.95" fill-opacity="0.3"/>
<circle cx="210.00" cy="297.50" r="1.5" fill="#45a8b1" stroke="#45a8b1" stroke-width="0.95" fill-opacity="0.3"/>
<circle cx="209.50" cy="301.25" r="1.5" fill="#45a8b1" stroke="#45a8b1" stroke-width="0.95" fill-opacity="0.3"/>
<circle cx="216.50" cy="300.00" r="1.5" fill="#45a8b1" stroke="#45a8b1" stroke-width="0.95" fill-opacity="0.3"/>
<circle cx="196.50" cy="302.50" r="1.5" fill="#45a8b1" stroke="#45a8b1" stroke-width="0.95" fill-opacity="0.3"/>
<circle cx="198.00" cy="308.00" r="1.5" fill="#45a8b1" stroke="#45a8b1" stroke-width="0.95" fill-opacity="0.3"/>
<circle cx="200.00" cy="312.00" r="1.5" fill="#45a8b1" stroke="#45a8b1" stroke-width="0.95" fill-opacity="0.3"/>
<circle cx="203.50" cy="311.50" r="1.5" fill="#45a8b1" stroke="#45a8b1" stroke-width="0.95" fill-opacity="0.3"/>
<circle cx="222.00" cy="306.25" r="1.5" fill="#45a8b1" stroke="#45a8b1" stroke-width="0.95" fill-opacity="0.3"/>
<circle cx="217.00" cy="313.50" r="1.5" fill="#45a8b1" stroke="#45a8b1" stroke-width="0.95" fill-opacity="0.3"/>
<circle cx="232.00" cy="315.00" r="1.5" fill="#45a8b1" stroke="#45a8b1" stroke-width="0.95" fill-opacity="0.3"/>
<circle cx="207.50" cy="318.00" r="1.5" fill="#45a8b1" stroke="#45a8b1" stroke-width="0.95" fill-opacity="0.3"/>
<line x1="49.50" y1="328.00" x2="252.50" y2="328.00" stroke="#1a1a1a" stroke-width="1.15" stroke-dasharray="3.1 2.3"/>
<rect x="49.50" y="205.50" width="203.00" height="128.30" stroke="#1a1a1a" stroke-width="1.5" fill="none"/>
<text x="74.40" y="214.00" font-size="5.6" text-anchor="start" fill="#222" stroke="#222" stroke-width="0.1" textLength="55.2" lengthAdjust="spacingAndGlyphs">Wilcoxon, p = 0.00036</text>
<text x="161.25" y="213.80" font-size="5.6" text-anchor="start" fill="#222" stroke="#222" stroke-width="0.1" textLength="55.8" lengthAdjust="spacingAndGlyphs">Wilcoxon, p = 0.00014</text>
<text x="7.00" y="385.80" font-size="12" text-anchor="start" fill="#000" font-weight="bold">E</text>
<text x="73.90" y="386.20" font-size="6.6" text-anchor="start" fill="#111" stroke="#111" stroke-width="0.06" textLength="71.3" lengthAdjust="spacingAndGlyphs">Pre-CART1 lymphodepletion</text>
<rect x="153.30" y="380.75" width="10.50" height="6.50" stroke="#d6605a" stroke-width="0.8" fill="none"/>
<line x1="153.30" y1="384.00" x2="163.80" y2="384.00" stroke="#d6605a" stroke-width="0.8"/>
<line x1="158.55" y1="379.45" x2="158.55" y2="380.75" stroke="#d6605a" stroke-width="0.8"/>
<line x1="158.55" y1="387.25" x2="158.55" y2="388.55" stroke="#d6605a" stroke-width="0.8"/>
<circle cx="158.55" cy="384.00" r="0.9" fill="#d6605a" stroke="none" stroke-width="1"/>
<text x="166.40" y="386.20" font-size="6.6" text-anchor="start" fill="#111" stroke="#111" stroke-width="0.06" textLength="16.3" lengthAdjust="spacingAndGlyphs">Cy-Flu</text>
<rect x="190.30" y="380.75" width="10.40" height="6.50" stroke="#45a8b1" stroke-width="0.8" fill="none"/>
<line x1="190.30" y1="384.00" x2="200.70" y2="384.00" stroke="#45a8b1" stroke-width="0.8"/>
<line x1="195.50" y1="379.45" x2="195.50" y2="380.75" stroke="#45a8b1" stroke-width="0.8"/>
<line x1="195.50" y1="387.25" x2="195.50" y2="388.55" stroke="#45a8b1" stroke-width="0.8"/>
<circle cx="195.50" cy="384.00" r="0.9" fill="#45a8b1" stroke="none" stroke-width="1"/>
<text x="203.30" y="386.20" font-size="6.6" text-anchor="start" fill="#111" stroke="#111" stroke-width="0.06" textLength="25.2" lengthAdjust="spacingAndGlyphs">No Cy-Flu</text>
<text x="26.70" y="462.45" font-size="10.3" text-anchor="middle" fill="#111" stroke="#111" stroke-width="0.08" textLength="120.9" lengthAdjust="spacingAndGlyphs" transform="rotate(-90 26.70 462.45)">Peak CAR-T cells/μL in blood after CART2</text>
<line x1="46.10" y1="520.60" x2="49.30" y2="520.60" stroke="#1a1a1a" stroke-width="1.1"/>
<text x="39.00" y="522.90" font-size="6.3" text-anchor="end" fill="#333" stroke="#333" stroke-width="0.12" textLength="6.9" lengthAdjust="spacingAndGlyphs">10</text>
<text x="39.10" y="520.40" font-size="4.2" text-anchor="start" fill="#333" stroke="#333" stroke-width="0.08">-2</text>
<line x1="46.10" y1="499.30" x2="49.30" y2="499.30" stroke="#1a1a1a" stroke-width="1.1"/>
<text x="39.00" y="501.60" font-size="6.3" text-anchor="end" fill="#333" stroke="#333" stroke-width="0.12" textLength="6.9" lengthAdjust="spacingAndGlyphs">10</text>
<text x="39.10" y="499.10" font-size="4.2" text-anchor="start" fill="#333" stroke="#333" stroke-width="0.08">-1</text>
<line x1="46.10" y1="478.00" x2="49.30" y2="478.00" stroke="#1a1a1a" stroke-width="1.1"/>
<text x="41.00" y="480.30" font-size="6.3" text-anchor="end" fill="#333" stroke="#333" stroke-width="0.12" textLength="6.9" lengthAdjust="spacingAndGlyphs">10</text>
<text x="41.10" y="477.80" font-size="4.2" text-anchor="start" fill="#333" stroke="#333" stroke-width="0.08">0</text>
<line x1="46.10" y1="456.70" x2="49.30" y2="456.70" stroke="#1a1a1a" stroke-width="1.1"/>
<text x="41.00" y="459.00" font-size="6.3" text-anchor="end" fill="#333" stroke="#333" stroke-width="0.12" textLength="6.9" lengthAdjust="spacingAndGlyphs">10</text>
<text x="41.10" y="456.50" font-size="4.2" text-anchor="start" fill="#333" stroke="#333" stroke-width="0.08">1</text>
<line x1="46.10" y1="435.40" x2="49.30" y2="435.40" stroke="#1a1a1a" stroke-width="1.1"/>
<text x="41.00" y="437.70" font-size="6.3" text-anchor="end" fill="#333" stroke="#333" stroke-width="0.12" textLength="6.9" lengthAdjust="spacingAndGlyphs">10</text>
<text x="41.10" y="435.20" font-size="4.2" text-anchor="start" fill="#333" stroke="#333" stroke-width="0.08">2</text>
<line x1="46.10" y1="414.10" x2="49.30" y2="414.10" stroke="#1a1a1a" stroke-width="1.1"/>
<text x="41.00" y="416.40" font-size="6.3" text-anchor="end" fill="#333" stroke="#333" stroke-width="0.12" textLength="6.9" lengthAdjust="spacingAndGlyphs">10</text>
<text x="41.10" y="413.90" font-size="4.2" text-anchor="start" fill="#333" stroke="#333" stroke-width="0.08">3</text>
<line x1="104.50" y1="526.80" x2="104.50" y2="529.80" stroke="#1a1a1a" stroke-width="1.1"/>
<text x="104.50" y="538.80" font-size="6.5" text-anchor="middle" fill="#333" stroke="#333" stroke-width="0.1" textLength="17.0" lengthAdjust="spacingAndGlyphs">CD8+</text>
<line x1="196.80" y1="526.80" x2="196.80" y2="529.80" stroke="#1a1a1a" stroke-width="1.1"/>
<text x="196.80" y="538.80" font-size="6.5" text-anchor="middle" fill="#333" stroke="#333" stroke-width="0.1" textLength="17.0" lengthAdjust="spacingAndGlyphs">CD4+</text>
<line x1="87.40" y1="410.50" x2="87.40" y2="450.70" stroke="#d6605a" stroke-width="0.9"/>
<line x1="87.40" y1="479.20" x2="87.40" y2="504.60" stroke="#d6605a" stroke-width="0.9"/>
<rect x="71.60" y="450.70" width="31.80" height="28.50" stroke="#d6605a" stroke-width="0.9" fill="none"/>
<line x1="71.60" y1="468.00" x2="103.40" y2="468.00" stroke="#d6605a" stroke-width="1.1"/>
<line x1="122.40" y1="473.00" x2="122.40" y2="476.60" stroke="#45a8b1" stroke-width="0.9"/>
<line x1="122.40" y1="507.70" x2="122.40" y2="521.20" stroke="#45a8b1" stroke-width="0.9"/>
<rect x="106.30" y="476.60" width="31.60" height="31.10" stroke="#45a8b1" stroke-width="0.9" fill="none"/>
<line x1="106.30" y1="494.20" x2="137.90" y2="494.20" stroke="#45a8b1" stroke-width="1.1"/>
<line x1="180.30" y1="428.10" x2="180.30" y2="449.90" stroke="#d6605a" stroke-width="0.9"/>
<line x1="180.30" y1="484.30" x2="180.30" y2="505.00" stroke="#d6605a" stroke-width="0.9"/>
<rect x="164.20" y="449.90" width="31.60" height="34.40" stroke="#d6605a" stroke-width="0.9" fill="none"/>
<line x1="164.20" y1="465.70" x2="195.80" y2="465.70" stroke="#d6605a" stroke-width="1.1"/>
<line x1="214.70" y1="475.70" x2="214.70" y2="484.30" stroke="#45a8b1" stroke-width="0.9"/>
<line x1="214.70" y1="504.50" x2="214.70" y2="504.50" stroke="#45a8b1" stroke-width="0.9"/>
<rect x="198.70" y="484.30" width="32.00" height="20.20" stroke="#45a8b1" stroke-width="0.9" fill="none"/>
<line x1="198.70" y1="496.40" x2="230.70" y2="496.40" stroke="#45a8b1" stroke-width="1.1"/>
<circle cx="95.20" cy="410.50" r="1.5" fill="#d6605a" stroke="#d6605a" stroke-width="0.95" fill-opacity="0.3"/>
<circle cx="86.10" cy="415.70" r="1.5" fill="#d6605a" stroke="#d6605a" stroke-width="0.95" fill-opacity="0.3"/>
<circle cx="94.40" cy="435.20" r="1.5" fill="#d6605a" stroke="#d6605a" stroke-width="0.95" fill-opacity="0.3"/>
<circle cx="80.90" cy="441.60" r="1.5" fill="#d6605a" stroke="#d6605a" stroke-width="0.95" fill-opacity="0.3"/>
<circle cx="89.20" cy="444.20" r="1.5" fill="#d6605a" stroke="#d6605a" stroke-width="0.95" fill-opacity="0.3"/>
<circle cx="83.50" cy="448.10" r="1.5" fill="#d6605a" stroke="#d6605a" stroke-width="0.95" fill-opacity="0.3"/>
<circle cx="93.90" cy="449.40" r="1.5" fill="#d6605a" stroke="#d6605a" stroke-width="0.95" fill-opacity="0.3"/>
<circle cx="79.60" cy="454.60" r="1.5" fill="#d6605a" stroke="#d6605a" stroke-width="0.95" fill-opacity="0.3"/>
<circle cx="93.10" cy="455.10" r="1.5" fill="#d6605a" stroke="#d6605a" stroke-width="0.95" fill-opacity="0.3"/>
<circle cx="88.70" cy="459.80" r="1.5" fill="#d6605a" stroke="#d6605a" stroke-width="0.95" fill-opacity="0.3"/>
<circle cx="79.60" cy="462.40" r="1.5" fill="#d6605a" stroke="#d6605a" stroke-width="0.95" fill-opacity="0.3"/>
<circle cx="82.20" cy="462.90" r="1.5" fill="#d6605a" stroke="#d6605a" stroke-width="0.95" fill-opacity="0.3"/>
<circle cx="95.90" cy="462.40" r="1.5" fill="#d6605a" stroke="#d6605a" stroke-width="0.95" fill-opacity="0.3"/>
<circle cx="83.50" cy="468.10" r="1.5" fill="#d6605a" stroke="#d6605a" stroke-width="0.95" fill-opacity="0.3"/>
<circle cx="95.70" cy="471.40" r="1.5" fill="#d6605a" stroke="#d6605a" stroke-width="0.95" fill-opacity="0.3"/>
<circle cx="80.10" cy="477.10" r="1.5" fill="#d6605a" stroke="#d6605a" stroke-width="0.95" fill-opacity="0.3"/>
<circle cx="87.40" cy="476.90" r="1.5" fill="#d6605a" stroke="#d6605a" stroke-width="0.95" fill-opacity="0.3"/>
<circle cx="91.30" cy="477.90" r="1.5" fill="#d6605a" stroke="#d6605a" stroke-width="0.95" fill-opacity="0.3"/>
<circle cx="93.30" cy="479.50" r="1.5" fill="#d6605a" stroke="#d6605a" stroke-width="0.95" fill-opacity="0.3"/>
<circle cx="90.00" cy="480.50" r="1.5" fill="#d6605a" stroke="#d6605a" stroke-width="0.95" fill-opacity="0.3"/>
<circle cx="78.80" cy="485.70" r="1.5" fill="#d6605a" stroke="#d6605a" stroke-width="0.95" fill-opacity="0.3"/>
<circle cx="82.20" cy="486.20" r="1.5" fill="#d6605a" stroke="#d6605a" stroke-width="0.95" fill-opacity="0.3"/>
<circle cx="84.00" cy="488.30" r="1.5" fill="#d6605a" stroke="#d6605a" stroke-width="0.95" fill-opacity="0.3"/>
<circle cx="93.90" cy="496.60" r="1.5" fill="#d6605a" stroke="#d6605a" stroke-width="0.95" fill-opacity="0.3"/>
<circle cx="80.10" cy="501.20" r="1.5" fill="#d6605a" stroke="#d6605a" stroke-width="0.95" fill-opacity="0.3"/>
<circle cx="87.40" cy="504.30" r="1.5" fill="#d6605a" stroke="#d6605a" stroke-width="0.95" fill-opacity="0.3"/>
<circle cx="121.80" cy="473.20" r="1.5" fill="#45a8b1" stroke="#45a8b1" stroke-width="0.95" fill-opacity="0.3"/>
<circle cx="124.40" cy="475.80" r="1.5" fill="#45a8b1" stroke="#45a8b1" stroke-width="0.95" fill-opacity="0.3"/>
<circle cx="119.80" cy="476.10" r="1.5" fill="#45a8b1" stroke="#45a8b1" stroke-width="0.95" fill-opacity="0.3"/>
<circle cx="122.90" cy="494.00" r="1.5" fill="#45a8b1" stroke="#45a8b1" stroke-width="0.95" fill-opacity="0.3"/>
<circle cx="126.20" cy="494.50" r="1.5" fill="#45a8b1" stroke="#45a8b1" stroke-width="0.95" fill-opacity="0.3"/>
<circle cx="117.70" cy="499.10" r="1.5" fill="#45a8b1" stroke="#45a8b1" stroke-width="0.95" fill-opacity="0.3"/>
<circle cx="129.40" cy="511.10" r="1.5" fill="#45a8b1" stroke="#45a8b1" stroke-width="0.95" fill-opacity="0.3"/>
<circle cx="116.40" cy="521.20" r="1.5" fill="#45a8b1" stroke="#45a8b1" stroke-width="0.95" fill-opacity="0.3"/>
<circle cx="126.20" cy="521.20" r="1.5" fill="#45a8b1" stroke="#45a8b1" stroke-width="0.95" fill-opacity="0.3"/>
<circle cx="186.20" cy="428.10" r="1.5" fill="#d6605a" stroke="#d6605a" stroke-width="0.95" fill-opacity="0.3"/>
<circle cx="184.40" cy="429.90" r="1.5" fill="#d6605a" stroke="#d6605a" stroke-width="0.95" fill-opacity="0.3"/>
<circle cx="176.10" cy="432.80" r="1.5" fill="#d6605a" stroke="#d6605a" stroke-width="0.95" fill-opacity="0.3"/>
<circle cx="184.40" cy="435.90" r="1.5" fill="#d6605a" stroke="#d6605a" stroke-width="0.95" fill-opacity="0.3"/>
<circle cx="179.80" cy="444.20" r="1.5" fill="#d6605a" stroke="#d6605a" stroke-width="0.95" fill-opacity="0.3"/>
<circle cx="182.30" cy="445.50" r="1.5" fill="#d6605a" stroke="#d6605a" stroke-width="0.95" fill-opacity="0.3"/>
<circle cx="172.00" cy="449.30" r="1.5" fill="#d6605a" stroke="#d6605a" stroke-width="0.95" fill-opacity="0.3"/>
<circle cx="181.60" cy="448.80" r="1.5" fill="#d6605a" stroke="#d6605a" stroke-width="0.95" fill-opacity="0.3"/>
<circle cx="184.40" cy="449.90" r="1.5" fill="#d6605a" stroke="#d6605a" stroke-width="0.95" fill-opacity="0.3"/>
<circle cx="186.20" cy="451.40" r="1.5" fill="#d6605a" stroke="#d6605a" stroke-width="0.95" fill-opacity="0.3"/>
<circle cx="174.60" cy="453.20" r="1.5" fill="#d6605a" stroke="#d6605a" stroke-width="0.95" fill-opacity="0.3"/>
<circle cx="187.50" cy="454.00" r="1.5" fill="#d6605a" stroke="#d6605a" stroke-width="0.95" fill-opacity="0.3"/>
<circle cx="172.50" cy="456.30" r="1.5" fill="#d6605a" stroke="#d6605a" stroke-width="0.95" fill-opacity="0.3"/>
<circle cx="182.30" cy="456.60" r="1.5" fill="#d6605a" stroke="#d6605a" stroke-width="0.95" fill-opacity="0.3"/>
<circle cx="180.50" cy="458.40" r="1.5" fill="#d6605a" stroke="#d6605a" stroke-width="0.95" fill-opacity="0.3"/>
<circle cx="179.00" cy="460.20" r="1.5" fill="#d6605a" stroke="#d6605a" stroke-width="0.95" fill-opacity="0.3"/>
<circle cx="186.20" cy="461.80" r="1.5" fill="#d6605a" stroke="#d6605a" stroke-width="0.95" fill-opacity="0.3"/>
<circle cx="182.30" cy="470.60" r="1.5" fill="#d6605a" stroke="#d6605a" stroke-width="0.95" fill-opacity="0.3"/>
<circle cx="183.60" cy="470.60" r="1.5" fill="#d6605a" stroke="#d6605a" stroke-width="0.95" fill-opacity="0.3"/>
<circle cx="170.70" cy="471.90" r="1.5" fill="#d6605a" stroke="#d6605a" stroke-width="0.95" fill-opacity="0.3"/>
<circle cx="176.70" cy="474.50" r="1.5" fill="#d6605a" stroke="#d6605a" stroke-width="0.95" fill-opacity="0.3"/>
<circle cx="177.90" cy="477.30" r="1.5" fill="#d6605a" stroke="#d6605a" stroke-width="0.95" fill-opacity="0.3"/>
<circle cx="172.00" cy="479.10" r="1.5" fill="#d6605a" stroke="#d6605a" stroke-width="0.95" fill-opacity="0.3"/>
<circle cx="182.30" cy="481.70" r="1.5" fill="#d6605a" stroke="#d6605a" stroke-width="0.95" fill-opacity="0.3"/>
<circle cx="179.00" cy="482.20" r="1.5" fill="#d6605a" stroke="#d6605a" stroke-width="0.95" fill-opacity="0.3"/>
<circle cx="180.50" cy="485.60" r="1.5" fill="#d6605a" stroke="#d6605a" stroke-width="0.95" fill-opacity="0.3"/>
<circle cx="188.00" cy="490.20" r="1.5" fill="#d6605a" stroke="#d6605a" stroke-width="0.95" fill-opacity="0.3"/>
<circle cx="186.20" cy="492.80" r="1.5" fill="#d6605a" stroke="#d6605a" stroke-width="0.95" fill-opacity="0.3"/>
<circle cx="179.20" cy="493.90" r="1.5" fill="#d6605a" stroke="#d6605a" stroke-width="0.95" fill-opacity="0.3"/>
<circle cx="188.30" cy="492.00" r="1.5" fill="#d6605a" stroke="#d6605a" stroke-width="0.95" fill-opacity="0.3"/>
<circle cx="181.10" cy="496.50" r="1.5" fill="#d6605a" stroke="#d6605a" stroke-width="0.95" fill-opacity="0.3"/>
<circle cx="188.30" cy="500.60" r="1.5" fill="#d6605a" stroke="#d6605a" stroke-width="0.95" fill-opacity="0.3"/>
<circle cx="185.50" cy="506.30" r="1.5" fill="#d6605a" stroke="#d6605a" stroke-width="0.95" fill-opacity="0.3"/>
<circle cx="206.70" cy="477.30" r="1.5" fill="#45a8b1" stroke="#45a8b1" stroke-width="0.95" fill-opacity="0.3"/>
<circle cx="210.30" cy="475.70" r="1.5" fill="#45a8b1" stroke="#45a8b1" stroke-width="0.95" fill-opacity="0.3"/>
<circle cx="205.60" cy="484.30" r="1.5" fill="#45a8b1" stroke="#45a8b1" stroke-width="0.95" fill-opacity="0.3"/>
<circle cx="208.80" cy="485.60" r="1.5" fill="#45a8b1" stroke="#45a8b1" stroke-width="0.95" fill-opacity="0.3"/>
<circle cx="208.20" cy="495.40" r="1.5" fill="#45a8b1" stroke="#45a8b1" stroke-width="0.95" fill-opacity="0.3"/>
<circle cx="208.80" cy="497.20" r="1.5" fill="#45a8b1" stroke="#45a8b1" stroke-width="0.95" fill-opacity="0.3"/>
<circle cx="216.00" cy="504.20" r="1.5" fill="#45a8b1" stroke="#45a8b1" stroke-width="0.95" fill-opacity="0.3"/>
<circle cx="223.80" cy="504.50" r="1.5" fill="#45a8b1" stroke="#45a8b1" stroke-width="0.95" fill-opacity="0.3"/>
<circle cx="216.00" cy="508.10" r="1.5" fill="#45a8b1" stroke="#45a8b1" stroke-width="0.95" fill-opacity="0.3"/>
<circle cx="207.70" cy="510.90" r="1.5" fill="#45a8b1" stroke="#45a8b1" stroke-width="0.95" fill-opacity="0.3"/>
<line x1="49.30" y1="520.60" x2="253.50" y2="520.60" stroke="#1a1a1a" stroke-width="1.15" stroke-dasharray="3.1 2.3"/>
<rect x="49.30" y="397.50" width="204.20" height="129.30" stroke="#1a1a1a" stroke-width="1.5" fill="none"/>
<text x="75.70" y="406.80" font-size="5.6" text-anchor="start" fill="#222" stroke="#222" stroke-width="0.1" textLength="53.7" lengthAdjust="spacingAndGlyphs">Wilcoxon, p = 0.0029</text>
<text x="165.00" y="406.60" font-size="5.6" text-anchor="start" fill="#222" stroke="#222" stroke-width="0.1" textLength="50.2" lengthAdjust="spacingAndGlyphs">Wilcoxon, p = 9e-04</text>
<text x="268.50" y="192.00" font-size="12" text-anchor="start" fill="#000" font-weight="bold">D</text>
<path d="M318.50,205.30V334.00M344.21,205.30V334.00M369.92,205.30V334.00M395.63,205.30V334.00M421.34,205.30V334.00M447.05,205.30V334.00M472.76,205.30V334.00M498.47,205.30V334.00M309.40,324.10H512.50M309.40,312.35H512.50M309.40,300.60H512.50M309.40,288.85H512.50M309.40,277.10H512.50M309.40,265.35H512.50M309.40,253.60H512.50M309.40,241.85H512.50M309.40,230.10H512.50M309.40,218.35H512.50M309.40,206.60H512.50" stroke="#ededed" stroke-width="0.9" fill="none"/>
<path d="M318.50,241.85 L323.64,216.00 L339.07,230.10 L354.49,237.49 L369.92,244.20 L382.77,246.13 L395.63,245.91 L408.49,251.49 L421.34,253.60 L433.68,254.01 L446.02,253.92 L458.36,257.23 L470.70,255.40 L483.04,255.95M318.50,247.73 L322.61,220.70 L333.93,232.45 L346.78,235.06 L359.64,239.50 L373.35,239.78 L387.06,247.06 L400.77,246.55 L412.60,248.64 L424.43,250.85 L436.25,246.48 L448.08,248.01 L459.90,250.08M318.50,265.35 L324.67,224.23 L344.21,235.98 L356.21,241.95 L368.21,238.06 L380.20,244.20 L393.70,241.22 L407.20,243.70 L420.70,244.27 L434.19,245.38M318.50,253.60 L322.10,230.10 L333.93,239.50 L345.92,245.83 L357.92,250.75 L369.92,251.25 L383.63,253.79 L397.34,259.84 L411.06,259.48M319.53,235.98 L326.21,224.23 L337.78,233.46 L349.35,238.33 L361.35,242.89 L373.35,247.12 L385.35,246.55 L405.91,248.90M318.50,277.10 L323.64,235.98 L339.07,247.73 L351.92,253.85 L364.78,259.48 L377.63,265.77 L390.49,271.23M332.90,224.23 L347.81,221.42 L362.72,223.31 L377.63,223.05M318.50,259.48 L323.13,218.35 L331.36,226.58 L342.92,233.22 L354.49,241.85 L367.35,244.79 L380.20,247.73M318.50,253.60 L328.78,226.58 L344.21,233.07 L359.64,241.85 L371.63,246.07 L383.63,251.25 L395.63,253.60M318.50,288.85 L323.64,241.85 L333.93,265.35 L346.78,300.60 L354.49,300.60M318.50,241.85 L322.61,223.05 L344.21,235.98 L359.64,237.75 L375.06,246.55 L395.63,248.90M318.50,265.35 L321.59,232.45 L328.78,247.73 L349.35,259.48 L364.78,264.79 L380.20,277.10M318.50,247.73 L325.70,212.48 L341.64,230.10 L353.21,233.58 L364.78,241.85M318.50,239.50 L323.64,219.53 L336.50,234.80 L353.21,240.38 L369.92,248.90 L390.49,255.95M318.50,271.23 L324.67,239.50 L339.07,255.95 L351.92,263.13 L364.78,267.70 L376.78,273.52 L388.77,277.02 L400.77,279.45 L421.34,282.98M318.50,253.60 L323.13,225.40 L336.50,253.60 L349.35,271.23 L357.06,300.60 L367.35,300.60M318.50,265.35 L322.61,235.98 L333.93,250.08 L354.49,258.30 L369.92,264.85 L385.35,265.35 L398.20,267.59 L411.06,273.58M318.50,253.60 L324.67,230.10 L339.07,244.20 L359.64,253.60 L380.20,260.65M318.50,271.23 L323.64,224.23 L328.78,241.85 L344.21,255.95 L364.78,266.53 L380.20,271.34 L395.63,274.75M318.50,247.73 L321.59,218.35 L327.76,227.75 L341.64,239.50 L355.78,241.76 L369.92,248.90 L385.35,252.05 L400.77,253.60M318.50,259.48 L325.70,230.10 L336.50,247.73 L351.92,271.23 L362.21,288.85 L369.92,300.60 L385.35,300.60" stroke="#d6605a" stroke-width="0.6" fill="none" stroke-opacity="0.27"/>
<path d="M318.50,241.85 L328.78,210.12 L341.64,217.35 L354.49,224.23 L369.92,234.80 L382.77,236.04 L395.63,239.50 L413.63,241.85M318.50,265.35 L322.61,224.23 L328.78,247.73 L339.07,277.10 L349.35,300.60M318.50,300.60 L321.07,235.98 L326.21,265.35 L331.36,300.60 L349.35,300.60M318.50,277.10 L322.10,230.10 L327.76,259.48 L333.93,288.85 L345.68,287.68 L357.43,291.37 L369.19,292.30 L380.94,289.73 L392.69,290.44 L404.44,286.66 L416.20,288.85M318.50,253.60 L323.64,235.98 L333.93,253.60 L349.35,261.07 L364.78,271.23 L377.63,278.57 L390.49,285.91 L403.34,293.26 L416.20,300.60M318.50,300.60 L321.59,218.35 L326.21,253.60 L339.07,300.60 L352.78,300.60 L366.49,300.60 L380.20,300.60M318.50,288.85 L323.64,241.85 L331.36,277.10 L336.50,300.60M318.50,277.10 L322.61,247.73 L328.78,265.35 L344.21,265.35 L359.64,288.85 L371.63,288.13 L383.63,288.44 L395.63,288.85M318.50,253.60 L321.07,223.05 L325.70,241.85 L341.64,265.35 L355.78,273.03 L369.92,282.98 L381.92,288.85 L393.92,294.73 L405.91,300.60M318.50,300.60 L324.67,253.60 L333.93,300.60 L346.78,300.60 L359.64,300.60 L372.49,300.60 L385.35,300.60 L398.20,300.60 L411.06,300.60M318.50,265.35 L323.13,230.10 L329.81,244.20 L349.35,251.25 L362.21,267.70 L367.35,247.73 L385.35,239.50M318.50,277.10 L321.59,235.98 L324.67,271.23 L333.93,288.85 L346.78,277.10 L364.78,300.60M318.50,247.73 L326.21,220.70 L339.07,235.98 L351.92,241.41 L364.78,241.85 L380.20,244.20M321.07,265.35 L326.21,241.85 L336.50,259.48 L348.07,266.95 L359.64,273.58 L375.06,283.59 L390.49,288.85 L404.20,285.99 L417.91,291.96 L431.62,288.85M318.50,235.98 L321.59,227.75 L326.73,239.50 L344.21,246.55 L356.21,245.87 L368.21,252.68 L380.20,251.25 L393.06,251.11 L405.91,253.60M318.50,265.35 L320.56,239.50 L323.64,251.25 L326.73,237.15 L332.90,263.00 L339.07,253.60 L349.35,274.75 L359.64,300.60M318.50,253.60 L321.59,227.75 L324.67,241.85 L329.81,235.98 L336.50,259.48 L346.78,251.25 L357.06,273.58 L368.63,282.36 L380.20,288.85" stroke="#45a8b1" stroke-width="0.6" fill="none" stroke-opacity="0.38"/>
<path d="M319.20,232.59 L320.70,231.24 L322.20,230.12 L323.70,229.26 L325.20,228.50 L326.70,228.03 L328.20,227.91 L329.70,227.82 L331.20,227.75 L332.70,227.74 L334.20,228.04 L335.70,228.53 L337.20,229.04 L338.70,229.61 L340.20,230.28 L341.70,231.00 L343.20,231.71 L344.70,232.45 L346.20,233.21 L347.70,233.98 L349.20,234.76 L350.70,235.52 L352.20,236.28 L353.70,237.05 L355.20,237.81 L356.70,238.56 L358.20,239.27 L359.70,239.97 L361.20,240.66 L362.70,241.33 L364.20,241.97 L365.70,242.56 L367.20,243.10 L368.70,243.62 L370.20,244.11 L371.70,244.58 L373.20,245.02 L374.70,245.45 L376.20,245.86 L377.70,246.25 L379.20,246.63 L380.70,246.99 L382.20,247.34 L383.70,247.68 L385.20,248.01 L386.70,248.33 L388.20,248.63 L389.70,248.93 L391.20,249.22 L392.70,249.50 L394.20,249.78 L395.70,250.07 L397.20,250.34 L398.70,250.62 L400.20,250.89 L401.70,251.16 L403.20,251.43 L404.70,251.70 L406.20,251.97 L407.70,252.24 L409.20,252.51 L410.70,252.78 L412.20,253.05 L413.70,253.31 L415.20,253.58 L416.70,253.84 L418.20,254.09 L419.70,254.34 L421.20,254.59 L422.70,254.83 L424.20,255.06 L425.70,255.30 L427.20,255.53 L428.70,255.75 L430.20,255.98 L431.70,256.19 L433.20,256.39 L434.70,256.59 L436.20,256.77 L437.70,256.95 L439.20,257.11 L440.70,257.27 L442.20,257.41 L443.70,257.54 L445.20,257.67 L446.70,257.78 L448.20,257.88 L449.70,257.95 L451.20,258.01 L452.70,258.05 L454.20,258.08 L455.70,258.08 L457.20,258.07 L458.70,258.05 L460.20,258.01 L461.70,257.97 L463.20,257.91 L464.70,257.84 L466.20,257.76 L467.70,257.68 L469.20,257.59 L470.70,257.49 L472.20,257.39 L473.70,257.28 L475.20,257.16 L476.70,257.02 L478.20,256.88 L479.70,256.73 L481.20,256.57 L482.70,256.40 L484.20,256.22 L485.70,256.02 L487.20,255.82 L488.70,255.61 L490.20,255.39 L491.70,255.16 L493.20,254.91 L494.70,254.66 L496.20,254.40 L497.70,254.13 L499.20,253.85 L500.70,253.56 L501.00,253.50 L501.00,294.50 L500.70,294.40 L499.20,293.87 L497.70,293.35 L496.20,292.84 L494.70,292.32 L493.20,291.81 L491.70,291.30 L490.20,290.79 L488.70,290.29 L487.20,289.79 L485.70,289.29 L484.20,288.80 L482.70,288.32 L481.20,287.84 L479.70,287.36 L478.20,286.89 L476.70,286.42 L475.20,285.96 L473.70,285.51 L472.20,285.06 L470.70,284.61 L469.20,284.16 L467.70,283.71 L466.20,283.25 L464.70,282.79 L463.20,282.33 L461.70,281.87 L460.20,281.42 L458.70,280.97 L457.20,280.53 L455.70,280.09 L454.20,279.67 L452.70,279.25 L451.20,278.85 L449.70,278.46 L448.20,278.09 L446.70,277.73 L445.20,277.38 L443.70,277.03 L442.20,276.68 L440.70,276.33 L439.20,275.99 L437.70,275.64 L436.20,275.30 L434.70,274.97 L433.20,274.64 L431.70,274.31 L430.20,273.99 L428.70,273.67 L427.20,273.35 L425.70,273.04 L424.20,272.72 L422.70,272.41 L421.20,272.10 L419.70,271.79 L418.20,271.47 L416.70,271.16 L415.20,270.84 L413.70,270.52 L412.20,270.20 L410.70,269.88 L409.20,269.55 L407.70,269.23 L406.20,268.91 L404.70,268.59 L403.20,268.27 L401.70,267.94 L400.20,267.62 L398.70,267.30 L397.20,266.96 L395.70,266.63 L394.20,266.28 L392.70,265.93 L391.20,265.58 L389.70,265.22 L388.20,264.85 L386.70,264.48 L385.20,264.08 L383.70,263.68 L382.20,263.26 L380.70,262.83 L379.20,262.39 L377.70,261.93 L376.20,261.46 L374.70,260.97 L373.20,260.46 L371.70,259.94 L370.20,259.39 L368.70,258.82 L367.20,258.23 L365.70,257.60 L364.20,256.93 L362.70,256.22 L361.20,255.47 L359.70,254.70 L358.20,253.93 L356.70,253.14 L355.20,252.33 L353.70,251.50 L352.20,250.66 L350.70,249.82 L349.20,249.00 L347.70,248.16 L346.20,247.31 L344.70,246.49 L343.20,245.68 L341.70,244.89 L340.20,244.10 L338.70,243.35 L337.20,242.70 L335.70,242.11 L334.20,241.53 L332.70,241.15 L331.20,241.05 L329.70,241.02 L328.20,241.01 L326.70,241.02 L325.20,241.38 L323.70,242.03 L322.20,242.77 L320.70,243.78 L319.20,245.01Z" stroke="none" stroke-width="0" fill="#999999" fill-opacity="0.40"/>
<path d="M319.20,250.94 L320.70,247.61 L322.20,245.83 L323.70,245.50 L325.20,247.04 L326.70,249.10 L328.20,251.61 L329.70,253.86 L331.20,254.97 L332.70,255.67 L334.20,256.17 L335.70,256.53 L337.20,256.83 L338.70,257.11 L340.20,257.45 L341.70,257.81 L343.20,258.15 L344.70,258.45 L346.20,258.69 L347.70,258.85 L349.20,258.97 L350.70,259.08 L352.20,259.18 L353.70,259.27 L355.20,259.38 L356.70,259.49 L358.20,259.61 L359.70,259.74 L361.20,259.88 L362.70,260.02 L364.20,260.17 L365.70,260.33 L367.20,260.49 L368.70,260.65 L370.20,260.81 L371.70,260.97 L373.20,261.13 L374.70,261.28 L376.20,261.44 L377.70,261.59 L379.20,261.75 L380.70,261.90 L382.20,262.06 L383.70,262.21 L385.20,262.36 L386.70,262.51 L388.20,262.66 L389.70,262.81 L391.20,262.96 L392.70,263.10 L394.20,263.25 L395.70,263.40 L397.20,263.55 L398.70,263.69 L400.20,263.84 L401.70,263.99 L403.20,264.13 L404.70,264.27 L406.20,264.41 L407.70,264.53 L409.20,264.64 L410.70,264.75 L412.20,264.85 L413.70,264.94 L415.20,265.03 L416.70,265.11 L418.20,265.19 L419.70,265.27 L421.20,265.35 L422.70,265.42 L424.20,265.49 L425.70,265.56 L427.20,265.61 L428.70,265.66 L430.20,265.70 L431.70,265.74 L433.20,265.76 L434.70,265.78 L436.20,265.78 L437.70,265.78 L439.20,265.76 L440.70,265.74 L442.20,265.70 L443.70,265.65 L445.20,265.59 L446.70,265.52 L448.20,265.42 L449.70,265.31 L451.20,265.16 L452.70,264.99 L454.20,264.80 L455.70,264.59 L457.20,264.35 L458.70,264.10 L460.20,263.83 L461.70,263.55 L463.20,263.25 L464.70,262.94 L466.20,262.62 L467.70,262.29 L469.20,261.95 L470.70,261.60 L472.20,261.25 L473.70,260.89 L475.20,260.51 L476.70,260.12 L478.20,259.71 L479.70,259.29 L481.20,258.85 L482.70,258.40 L484.20,257.93 L485.70,257.45 L487.20,256.96 L488.70,256.45 L490.20,255.93 L491.70,255.39 L493.20,254.84 L494.70,254.28 L496.20,253.71 L497.00,253.40 L497.00,327.40 L496.20,326.85 L494.70,325.82 L493.20,324.80 L491.70,323.79 L490.20,322.78 L488.70,321.78 L487.20,320.79 L485.70,319.81 L484.20,318.84 L482.70,317.88 L481.20,316.92 L479.70,315.98 L478.20,315.04 L476.70,314.12 L475.20,313.21 L473.70,312.31 L472.20,311.42 L470.70,310.53 L469.20,309.64 L467.70,308.75 L466.20,307.86 L464.70,306.97 L463.20,306.08 L461.70,305.20 L460.20,304.34 L458.70,303.48 L457.20,302.64 L455.70,301.82 L454.20,301.01 L452.70,300.23 L451.20,299.47 L449.70,298.74 L448.20,298.04 L446.70,297.37 L445.20,296.71 L443.70,296.07 L442.20,295.43 L440.70,294.80 L439.20,294.17 L437.70,293.56 L436.20,292.96 L434.70,292.37 L433.20,291.79 L431.70,291.23 L430.20,290.67 L428.70,290.14 L427.20,289.61 L425.70,289.10 L424.20,288.61 L422.70,288.13 L421.20,287.67 L419.70,287.22 L418.20,286.79 L416.70,286.36 L415.20,285.94 L413.70,285.53 L412.20,285.13 L410.70,284.75 L409.20,284.38 L407.70,284.02 L406.20,283.68 L404.70,283.35 L403.20,283.04 L401.70,282.74 L400.20,282.45 L398.70,282.16 L397.20,281.88 L395.70,281.61 L394.20,281.35 L392.70,281.09 L391.20,280.84 L389.70,280.59 L388.20,280.35 L386.70,280.11 L385.20,279.88 L383.70,279.65 L382.20,279.42 L380.70,279.19 L379.20,278.98 L377.70,278.77 L376.20,278.56 L374.70,278.36 L373.20,278.16 L371.70,277.96 L370.20,277.76 L368.70,277.56 L367.20,277.35 L365.70,277.14 L364.20,276.93 L362.70,276.72 L361.20,276.51 L359.70,276.30 L358.20,276.09 L356.70,275.87 L355.20,275.62 L353.70,275.34 L352.20,275.03 L350.70,274.69 L349.20,274.31 L347.70,273.90 L346.20,273.44 L344.70,272.91 L343.20,272.32 L341.70,271.70 L340.20,271.08 L338.70,270.48 L337.20,269.89 L335.70,269.27 L334.20,268.61 L332.70,267.87 L331.20,267.01 L329.70,265.86 L328.20,263.66 L326.70,261.28 L325.20,259.43 L323.70,258.16 L322.20,258.84 L320.70,261.05 L319.20,264.86Z" stroke="none" stroke-width="0" fill="#999999" fill-opacity="0.40"/>
<path d="M319.20,238.80 L320.20,237.92 L321.20,237.13 L322.20,236.45 L323.20,235.90 L324.20,235.39 L325.20,234.94 L326.20,234.61 L327.20,234.49 L328.20,234.46 L329.20,234.43 L330.20,234.41 L331.20,234.40 L332.20,234.40 L333.20,234.53 L334.20,234.79 L335.20,235.13 L336.20,235.51 L337.20,235.87 L338.20,236.26 L339.20,236.71 L340.20,237.19 L341.20,237.69 L342.20,238.20 L343.20,238.70 L344.20,239.21 L345.20,239.73 L346.20,240.26 L347.20,240.80 L348.20,241.34 L349.20,241.88 L350.20,242.41 L351.20,242.94 L352.20,243.47 L353.20,244.01 L354.20,244.54 L355.20,245.07 L356.20,245.59 L357.20,246.10 L358.20,246.60 L359.20,247.09 L360.20,247.58 L361.20,248.06 L362.20,248.54 L363.20,249.00 L364.20,249.45 L365.20,249.88 L366.20,250.28 L367.20,250.67 L368.20,251.04 L369.20,251.40 L370.20,251.75 L371.20,252.09 L372.20,252.42 L373.20,252.74 L374.20,253.06 L375.20,253.36 L376.20,253.66 L377.20,253.95 L378.20,254.23 L379.20,254.51 L380.20,254.78 L381.20,255.04 L382.20,255.30 L383.20,255.56 L384.20,255.80 L385.20,256.05 L386.20,256.29 L387.20,256.52 L388.20,256.74 L389.20,256.97 L390.20,257.18 L391.20,257.40 L392.20,257.61 L393.20,257.82 L394.20,258.03 L395.20,258.24 L396.20,258.45 L397.20,258.65 L398.20,258.86 L399.20,259.06 L400.20,259.26 L401.20,259.45 L402.20,259.65 L403.20,259.85 L404.20,260.04 L405.20,260.24 L406.20,260.44 L407.20,260.63 L408.20,260.83 L409.20,261.03 L410.20,261.23 L411.20,261.43 L412.20,261.62 L413.20,261.82 L414.20,262.01 L415.20,262.21 L416.20,262.40 L417.20,262.59 L418.20,262.78 L419.20,262.97 L420.20,263.16 L421.20,263.34 L422.20,263.53 L423.20,263.71 L424.20,263.89 L425.20,264.08 L426.20,264.26 L427.20,264.44 L428.20,264.62 L429.20,264.80 L430.20,264.98 L431.20,265.16 L432.20,265.34 L433.20,265.52 L434.20,265.69 L435.20,265.87 L436.20,266.04 L437.20,266.21 L438.20,266.38 L439.20,266.55 L440.20,266.72 L441.20,266.88 L442.20,267.04 L443.20,267.21 L444.20,267.37 L445.20,267.52 L446.20,267.68 L447.20,267.83 L448.20,267.98 L449.20,268.13 L450.20,268.28 L451.20,268.43 L452.20,268.58 L453.20,268.73 L454.20,268.87 L455.20,269.02 L456.20,269.16 L457.20,269.30 L458.20,269.44 L459.20,269.58 L460.20,269.72 L461.20,269.85 L462.20,269.99 L463.20,270.12 L464.20,270.25 L465.20,270.38 L466.20,270.51 L467.20,270.63 L468.20,270.75 L469.20,270.87 L470.20,270.99 L471.20,271.11 L472.20,271.22 L473.20,271.34 L474.20,271.45 L475.20,271.56 L476.20,271.67 L477.20,271.78 L478.20,271.89 L479.20,271.99 L480.20,272.10 L481.20,272.20 L482.20,272.31 L483.20,272.41 L484.20,272.51 L485.20,272.61 L486.20,272.71 L487.20,272.81 L488.20,272.90 L489.20,273.00 L490.20,273.09 L491.20,273.18 L492.20,273.27 L493.20,273.36 L494.20,273.45 L495.20,273.53 L496.20,273.62 L497.20,273.70 L498.20,273.78 L499.20,273.86 L500.20,273.94 L501.00,274.00" stroke="#d6605a" stroke-width="1.6" fill="none" stroke-linecap="round" stroke-linejoin="round"/>
<path d="M319.20,257.90 L320.20,255.34 L321.20,253.49 L322.20,252.33 L323.20,251.83 L324.20,252.10 L325.20,253.24 L326.20,254.52 L327.20,255.96 L328.20,257.64 L329.20,259.21 L330.20,260.35 L331.20,260.99 L332.20,261.53 L333.20,261.99 L334.20,262.39 L335.20,262.74 L336.20,263.06 L337.20,263.36 L338.20,263.65 L339.20,263.95 L340.20,264.27 L341.20,264.59 L342.20,264.92 L343.20,265.24 L344.20,265.54 L345.20,265.82 L346.20,266.07 L347.20,266.28 L348.20,266.47 L349.20,266.64 L350.20,266.81 L351.20,266.96 L352.20,267.10 L353.20,267.24 L354.20,267.37 L355.20,267.50 L356.20,267.62 L357.20,267.74 L358.20,267.85 L359.20,267.97 L360.20,268.08 L361.20,268.19 L362.20,268.31 L363.20,268.43 L364.20,268.55 L365.20,268.68 L366.20,268.80 L367.20,268.92 L368.20,269.05 L369.20,269.17 L370.20,269.29 L371.20,269.41 L372.20,269.53 L373.20,269.64 L374.20,269.76 L375.20,269.88 L376.20,270.00 L377.20,270.12 L378.20,270.24 L379.20,270.36 L380.20,270.49 L381.20,270.61 L382.20,270.74 L383.20,270.87 L384.20,270.99 L385.20,271.12 L386.20,271.25 L387.20,271.38 L388.20,271.51 L389.20,271.64 L390.20,271.77 L391.20,271.90 L392.20,272.03 L393.20,272.17 L394.20,272.30 L395.20,272.44 L396.20,272.58 L397.20,272.72 L398.20,272.86 L399.20,273.00 L400.20,273.14 L401.20,273.29 L402.20,273.44 L403.20,273.59 L404.20,273.74 L405.20,273.89 L406.20,274.04 L407.20,274.20 L408.20,274.35 L409.20,274.51 L410.20,274.67 L411.20,274.83 L412.20,274.99 L413.20,275.15 L414.20,275.32 L415.20,275.48 L416.20,275.65 L417.20,275.82 L418.20,275.99 L419.20,276.16 L420.20,276.33 L421.20,276.51 L422.20,276.69 L423.20,276.87 L424.20,277.05 L425.20,277.24 L426.20,277.42 L427.20,277.61 L428.20,277.80 L429.20,278.00 L430.20,278.19 L431.20,278.38 L432.20,278.58 L433.20,278.78 L434.20,278.97 L435.20,279.17 L436.20,279.37 L437.20,279.57 L438.20,279.77 L439.20,279.97 L440.20,280.17 L441.20,280.37 L442.20,280.56 L443.20,280.76 L444.20,280.96 L445.20,281.15 L446.20,281.35 L447.20,281.54 L448.20,281.73 L449.20,281.93 L450.20,282.12 L451.20,282.32 L452.20,282.51 L453.20,282.71 L454.20,282.91 L455.20,283.10 L456.20,283.30 L457.20,283.50 L458.20,283.69 L459.20,283.89 L460.20,284.08 L461.20,284.28 L462.20,284.47 L463.20,284.67 L464.20,284.86 L465.20,285.05 L466.20,285.24 L467.20,285.43 L468.20,285.61 L469.20,285.80 L470.20,285.98 L471.20,286.16 L472.20,286.34 L473.20,286.51 L474.20,286.69 L475.20,286.86 L476.20,287.03 L477.20,287.21 L478.20,287.38 L479.20,287.55 L480.20,287.72 L481.20,287.89 L482.20,288.05 L483.20,288.22 L484.20,288.38 L485.20,288.55 L486.20,288.71 L487.20,288.87 L488.20,289.03 L489.20,289.19 L490.20,289.35 L491.20,289.51 L492.20,289.67 L493.20,289.82 L494.20,289.98 L495.20,290.13 L496.20,290.28 L497.00,290.40" stroke="#45a8b1" stroke-width="1.6" fill="none" stroke-linecap="round" stroke-linejoin="round"/>
<line x1="309.40" y1="265.40" x2="512.50" y2="265.40" stroke="#222" stroke-width="1.1" stroke-dasharray="3.1 2.3"/>
<rect x="309.40" y="205.30" width="203.10" height="128.70" stroke="#1a1a1a" stroke-width="1.5" fill="none"/>
<line x1="306.20" y1="324.10" x2="309.40" y2="324.10" stroke="#1a1a1a" stroke-width="1.1"/>
<text x="299.10" y="326.40" font-size="6.3" text-anchor="end" fill="#333" stroke="#333" stroke-width="0.12" textLength="6.9" lengthAdjust="spacingAndGlyphs">10</text>
<text x="299.20" y="323.90" font-size="4.2" text-anchor="start" fill="#333" stroke="#333" stroke-width="0.08">-4</text>
<line x1="306.20" y1="300.60" x2="309.40" y2="300.60" stroke="#1a1a1a" stroke-width="1.1"/>
<text x="299.10" y="302.90" font-size="6.3" text-anchor="end" fill="#333" stroke="#333" stroke-width="0.12" textLength="6.9" lengthAdjust="spacingAndGlyphs">10</text>
<text x="299.20" y="300.40" font-size="4.2" text-anchor="start" fill="#333" stroke="#333" stroke-width="0.08">-2</text>
<line x1="306.20" y1="277.10" x2="309.40" y2="277.10" stroke="#1a1a1a" stroke-width="1.1"/>
<text x="301.10" y="279.40" font-size="6.3" text-anchor="end" fill="#333" stroke="#333" stroke-width="0.12" textLength="6.9" lengthAdjust="spacingAndGlyphs">10</text>
<text x="301.20" y="276.90" font-size="4.2" text-anchor="start" fill="#333" stroke="#333" stroke-width="0.08">0</text>
<line x1="306.20" y1="253.60" x2="309.40" y2="253.60" stroke="#1a1a1a" stroke-width="1.1"/>
<text x="301.10" y="255.90" font-size="6.3" text-anchor="end" fill="#333" stroke="#333" stroke-width="0.12" textLength="6.9" lengthAdjust="spacingAndGlyphs">10</text>
<text x="301.20" y="253.40" font-size="4.2" text-anchor="start" fill="#333" stroke="#333" stroke-width="0.08">2</text>
<line x1="306.20" y1="230.10" x2="309.40" y2="230.10" stroke="#1a1a1a" stroke-width="1.1"/>
<text x="301.10" y="232.40" font-size="6.3" text-anchor="end" fill="#333" stroke="#333" stroke-width="0.12" textLength="6.9" lengthAdjust="spacingAndGlyphs">10</text>
<text x="301.20" y="229.90" font-size="4.2" text-anchor="start" fill="#333" stroke="#333" stroke-width="0.08">4</text>
<line x1="306.20" y1="206.60" x2="309.40" y2="206.60" stroke="#1a1a1a" stroke-width="1.1"/>
<text x="301.10" y="208.90" font-size="6.3" text-anchor="end" fill="#333" stroke="#333" stroke-width="0.12" textLength="6.9" lengthAdjust="spacingAndGlyphs">10</text>
<text x="301.20" y="206.40" font-size="4.2" text-anchor="start" fill="#333" stroke="#333" stroke-width="0.08">6</text>
<line x1="318.50" y1="334.00" x2="318.50" y2="337.00" stroke="#1a1a1a" stroke-width="1.1"/>
<text x="318.50" y="346.30" font-size="6.3" text-anchor="middle" fill="#333" stroke="#333" stroke-width="0.1">0</text>
<line x1="369.92" y1="334.00" x2="369.92" y2="337.00" stroke="#1a1a1a" stroke-width="1.1"/>
<text x="369.92" y="346.30" font-size="6.3" text-anchor="middle" fill="#333" stroke="#333" stroke-width="0.1">100</text>
<line x1="421.34" y1="334.00" x2="421.34" y2="337.00" stroke="#1a1a1a" stroke-width="1.1"/>
<text x="421.34" y="346.30" font-size="6.3" text-anchor="middle" fill="#333" stroke="#333" stroke-width="0.1">200</text>
<line x1="472.76" y1="334.00" x2="472.76" y2="337.00" stroke="#1a1a1a" stroke-width="1.1"/>
<text x="472.76" y="346.30" font-size="6.3" text-anchor="middle" fill="#333" stroke="#333" stroke-width="0.1">300</text>
<text x="411.00" y="357.40" font-size="9.1" text-anchor="middle" fill="#111" stroke="#111" stroke-width="0.05" textLength="78.3" lengthAdjust="spacingAndGlyphs">Days after CART2 infusion</text>
<text x="287.30" y="269.30" font-size="10.0" text-anchor="middle" fill="#111" stroke="#111" stroke-width="0.08" textLength="118.6" lengthAdjust="spacingAndGlyphs" transform="rotate(-90 287.30 269.30)">CAR transgene copies/μg DNA in blood</text>
<text x="338.00" y="192.20" font-size="6.6" text-anchor="start" fill="#111" stroke="#111" stroke-width="0.06" textLength="65.5" lengthAdjust="spacingAndGlyphs">Best response after CART2</text>
<rect x="413.00" y="184.20" width="11.60" height="11.60" stroke="none" stroke-width="0" fill="#d9d9d9"/>
<line x1="414.30" y1="190.00" x2="423.30" y2="190.00" stroke="#d6605a" stroke-width="1.4"/>
<text x="427.90" y="192.20" font-size="6.6" text-anchor="start" fill="#111" stroke="#111" stroke-width="0.06" textLength="15.9" lengthAdjust="spacingAndGlyphs">CR/PR</text>
<rect x="453.00" y="184.20" width="11.60" height="11.60" stroke="none" stroke-width="0" fill="#d9d9d9"/>
<line x1="454.30" y1="190.00" x2="463.30" y2="190.00" stroke="#45a8b1" stroke-width="1.4"/>
<text x="467.70" y="192.20" font-size="6.6" text-anchor="start" fill="#111" stroke="#111" stroke-width="0.06" textLength="16.3" lengthAdjust="spacingAndGlyphs">SD/PD</text>
<text x="268.50" y="386.20" font-size="12" text-anchor="start" fill="#000" font-weight="bold">F</text>
<path d="M318.50,397.40V526.50M344.21,397.40V526.50M369.92,397.40V526.50M395.63,397.40V526.50M421.34,397.40V526.50M447.05,397.40V526.50M472.76,397.40V526.50M498.47,397.40V526.50M309.30,518.00H513.00M309.30,504.75H513.00M309.30,491.50H513.00M309.30,478.25H513.00M309.30,465.00H513.00M309.30,451.75H513.00M309.30,438.50H513.00M309.30,425.25H513.00M309.30,412.00H513.00M309.30,398.75H513.00" stroke="#ededed" stroke-width="0.9" fill="none"/>
<path d="M318.50,438.50 L323.64,404.05 L339.07,421.27 L354.49,430.48 L369.92,435.85 L382.77,436.70 L395.63,439.02 L408.49,440.03 L421.34,445.12 L433.68,448.95 L446.02,449.92 L458.36,451.91 L470.70,452.61 L483.04,451.75M318.50,451.75 L322.61,408.02 L333.93,419.95 L346.78,424.05 L359.64,431.88 L373.35,437.02 L387.06,436.04 L400.77,438.50 L412.60,442.63 L424.43,443.84 L436.25,444.61 L448.08,443.24 L459.90,447.77M318.50,465.00 L324.67,412.00 L344.21,426.57 L359.64,428.36 L375.06,431.88 L389.20,437.06 L403.34,434.52M318.50,451.75 L322.10,418.62 L333.93,438.50 L345.92,445.58 L357.92,451.91 L369.92,454.40 L383.63,454.10 L397.34,457.24 L411.06,462.35M319.53,431.88 L326.21,414.65 L337.78,422.15 L349.35,434.52 L361.35,435.02 L373.35,438.76 L385.35,443.80 L400.77,441.55 L416.20,446.45M318.50,478.25 L323.64,425.25 L339.07,445.12 L351.92,452.73 L364.78,465.00 L377.63,476.87 L390.49,484.88M332.90,425.25 L347.81,421.14 L362.72,422.71 L377.63,421.27M318.50,458.38 L323.13,409.35 L331.36,419.95 L342.92,427.20 L354.49,438.50 L367.35,441.30 L380.20,445.12M318.50,451.75 L328.78,418.62 L344.21,429.12 L359.64,438.50 L371.63,444.00 L383.63,447.89 L395.63,451.75M318.50,504.75 L323.64,438.50 L333.93,465.00 L346.78,504.75 L358.35,504.75 L369.92,504.75M318.50,438.50 L322.61,414.65 L344.21,430.55 L357.06,438.66 L369.92,443.80 L390.49,446.45M318.50,465.00 L321.59,425.25 L328.78,445.12 L349.35,458.38 L364.78,471.35 L380.20,478.25M318.50,445.12 L325.70,402.73 L341.64,425.25 L353.21,429.33 L364.78,438.50M318.50,435.85 L323.64,412.00 L336.50,431.88 L353.21,438.12 L369.92,449.10 L382.77,449.21 L395.63,457.05M318.50,471.62 L324.67,435.85 L339.07,454.40 L351.92,459.51 L364.78,467.65 L376.78,471.64 L388.77,474.51 L400.77,480.90 L421.34,504.75M318.50,504.75 L321.07,422.60 L327.76,451.75 L339.07,504.75 L353.21,504.75 L367.35,504.75M318.50,465.00 L323.64,419.95 L336.50,441.15 L348.07,454.65 L359.64,462.35 L372.49,472.21 L385.35,484.88 L400.77,494.81 L416.20,504.75M318.50,451.75 L324.67,427.90 L339.07,443.80 L354.49,446.90 L369.92,449.10 L390.49,478.25 L405.91,504.75M318.50,478.25 L322.61,435.85 L333.93,454.40 L349.35,471.62 L364.78,491.50 L375.06,504.75M320.04,449.10 L327.76,417.30 L349.35,438.50 L369.92,458.38 L385.35,465.00M318.50,465.00 L323.64,414.65 L331.36,438.50 L344.21,451.75 L362.21,482.23 L376.35,493.49 L390.49,504.75M318.50,441.15 L321.59,408.02 L328.78,422.60 L346.78,435.85 L364.78,443.80M318.50,491.50 L325.70,421.27 L341.64,438.50 L354.49,447.70 L367.35,451.75 L381.49,460.74 L395.63,465.00 L408.49,474.76 L421.34,484.88M318.50,458.38 L323.13,430.55 L333.93,449.10 L354.49,454.40 L369.92,461.66 L385.35,465.00 L397.69,472.95 L410.03,480.90 L422.37,488.85 L434.71,496.80 L447.05,504.75M319.53,451.75 L324.16,417.30 L339.07,433.20 L357.06,441.15 L375.06,442.48M318.50,431.88 L322.61,422.60 L331.87,431.88 L343.18,437.50 L354.49,442.48 L369.92,458.38M318.50,471.62 L321.07,431.88 L325.70,451.75 L333.93,504.75 L349.35,504.75M318.50,451.75 L326.73,410.68 L344.21,427.90 L356.21,431.04 L368.21,436.68 L380.20,439.82 L391.52,443.56 L402.83,441.49 L414.14,444.31 L425.45,445.11 L436.77,443.80M318.50,462.35 L322.10,417.30 L328.78,435.85 L341.64,451.75 L354.49,471.62 L367.35,494.15 L380.20,504.75 L395.63,504.75M318.50,449.10 L324.16,408.02 L333.93,430.55 L349.35,443.80 L362.21,461.02 L375.06,475.60 L390.49,504.75M318.50,475.60 L323.13,426.57 L331.36,443.80 L344.21,439.82 L359.64,458.38 L372.49,484.88 L382.77,504.75" stroke="#d6605a" stroke-width="0.6" fill="none" stroke-opacity="0.27"/>
<path d="M318.50,445.12 L321.07,438.50 L326.21,465.00 L333.93,484.88 L344.21,504.75 L349.35,504.75M318.50,504.75 L322.61,451.75 L328.78,504.75 L349.35,504.75M318.50,465.00 L323.64,458.38 L331.36,491.50 L344.21,494.63 L357.06,489.89 L369.92,490.29 L382.77,488.00 L395.63,493.32 L408.49,493.44 L421.34,491.50M318.50,451.75 L324.67,441.15 L333.93,454.40 L349.35,467.65 L369.92,475.60 L382.77,478.38 L395.63,484.88M318.50,478.25 L321.59,458.38 L328.78,484.88 L339.07,504.75M318.50,438.50 L322.10,433.20 L328.78,449.10 L344.21,458.38 L359.64,471.62M321.07,504.75 L322.61,465.00 L326.21,491.50 L333.93,504.75" stroke="#45a8b1" stroke-width="0.6" fill="none" stroke-opacity="0.38"/>
<path d="M318.90,440.46 L320.40,436.43 L321.90,433.60 L323.40,432.28 L324.90,431.33 L326.40,430.90 L327.90,431.66 L329.40,433.20 L330.90,434.50 L332.40,435.82 L333.90,436.88 L335.40,437.63 L336.90,438.24 L338.40,438.73 L339.90,439.11 L341.40,439.43 L342.90,439.81 L344.40,440.31 L345.90,440.91 L347.40,441.54 L348.90,442.15 L350.40,442.65 L351.90,443.10 L353.40,443.52 L354.90,443.93 L356.40,444.31 L357.90,444.68 L359.40,445.03 L360.90,445.37 L362.40,445.69 L363.90,446.00 L365.40,446.30 L366.90,446.58 L368.40,446.86 L369.90,447.12 L371.40,447.37 L372.90,447.61 L374.40,447.85 L375.90,448.08 L377.40,448.30 L378.90,448.53 L380.40,448.75 L381.90,448.97 L383.40,449.19 L384.90,449.41 L386.40,449.62 L387.90,449.83 L389.40,450.04 L390.90,450.24 L392.40,450.44 L393.90,450.63 L395.40,450.83 L396.90,451.02 L398.40,451.20 L399.90,451.39 L401.40,451.56 L402.90,451.71 L404.40,451.85 L405.90,451.98 L407.40,452.09 L408.90,452.20 L410.40,452.30 L411.90,452.41 L413.40,452.52 L414.90,452.63 L416.40,452.76 L417.90,452.89 L419.40,453.05 L420.90,453.22 L422.40,453.42 L423.90,453.62 L425.40,453.84 L426.90,454.05 L428.40,454.28 L429.90,454.51 L431.40,454.74 L432.90,454.97 L434.40,455.20 L435.90,455.43 L437.40,455.66 L438.90,455.89 L440.40,456.11 L441.90,456.32 L443.40,456.53 L444.90,456.73 L446.40,456.93 L447.90,457.10 L449.40,457.25 L450.90,457.36 L452.40,457.45 L453.90,457.50 L455.40,457.53 L456.90,457.53 L458.40,457.50 L459.90,457.45 L461.40,457.38 L462.90,457.29 L464.40,457.18 L465.90,457.06 L467.40,456.92 L468.90,456.76 L470.40,456.59 L471.90,456.41 L473.40,456.21 L474.90,455.98 L476.40,455.71 L477.90,455.40 L479.40,455.07 L480.90,454.70 L482.40,454.31 L483.90,453.88 L485.40,453.43 L486.90,452.94 L488.40,452.43 L489.90,451.90 L491.40,451.33 L492.90,450.75 L494.40,450.14 L495.90,449.51 L497.40,448.85 L498.90,448.18 L500.40,447.48 L501.00,447.20 L501.00,502.20 L500.40,501.80 L498.90,500.81 L497.40,499.83 L495.90,498.87 L494.40,497.92 L492.90,496.98 L491.40,496.05 L489.90,495.15 L488.40,494.26 L486.90,493.39 L485.40,492.54 L483.90,491.71 L482.40,490.90 L480.90,490.11 L479.40,489.35 L477.90,488.62 L476.40,487.91 L474.90,487.23 L473.40,486.58 L471.90,485.96 L470.40,485.35 L468.90,484.73 L467.40,484.11 L465.90,483.49 L464.40,482.87 L462.90,482.26 L461.40,481.66 L459.90,481.07 L458.40,480.50 L456.90,479.94 L455.40,479.41 L453.90,478.91 L452.40,478.43 L450.90,477.99 L449.40,477.58 L447.90,477.20 L446.40,476.87 L444.90,476.55 L443.40,476.24 L441.90,475.93 L440.40,475.63 L438.90,475.34 L437.40,475.04 L435.90,474.75 L434.40,474.47 L432.90,474.18 L431.40,473.89 L429.90,473.60 L428.40,473.31 L426.90,473.01 L425.40,472.71 L423.90,472.40 L422.40,472.09 L420.90,471.77 L419.40,471.43 L417.90,471.06 L416.40,470.69 L414.90,470.29 L413.40,469.89 L411.90,469.48 L410.40,469.07 L408.90,468.66 L407.40,468.25 L405.90,467.85 L404.40,467.46 L402.90,467.08 L401.40,466.72 L399.90,466.38 L398.40,466.05 L396.90,465.74 L395.40,465.43 L393.90,465.12 L392.40,464.82 L390.90,464.52 L389.40,464.23 L387.90,463.93 L386.40,463.63 L384.90,463.32 L383.40,463.02 L381.90,462.70 L380.40,462.38 L378.90,462.05 L377.40,461.72 L375.90,461.40 L374.40,461.06 L372.90,460.73 L371.40,460.39 L369.90,460.03 L368.40,459.67 L366.90,459.30 L365.40,458.92 L363.90,458.52 L362.40,458.11 L360.90,457.68 L359.40,457.25 L357.90,456.79 L356.40,456.32 L354.90,455.83 L353.40,455.32 L351.90,454.79 L350.40,454.23 L348.90,453.61 L347.40,452.90 L345.90,452.13 L344.40,451.38 L342.90,450.72 L341.40,450.19 L339.90,449.69 L338.40,449.15 L336.90,448.50 L335.40,447.74 L333.90,446.84 L332.40,445.67 L330.90,444.24 L329.40,442.86 L327.90,441.28 L326.40,440.50 L324.90,441.24 L323.40,442.94 L321.90,445.31 L320.40,449.33 L318.90,454.54Z" stroke="none" stroke-width="0" fill="#999999" fill-opacity="0.40"/>
<path d="M318.90,450.45 L320.40,454.76 L321.90,458.63 L323.40,461.82 L324.90,464.86 L326.40,467.90 L327.90,470.36 L329.40,471.67 L330.90,471.32 L332.40,469.74 L333.90,467.97 L335.40,467.11 L336.90,467.67 L338.40,469.22 L339.90,471.30 L341.40,473.43 L342.90,475.09 L344.40,475.70 L345.90,475.60 L347.40,475.35 L348.90,475.00 L350.40,474.59 L351.90,474.16 L353.40,473.75 L354.90,473.28 L356.40,472.74 L357.90,472.17 L359.40,471.61 L360.90,471.11 L362.40,470.70 L363.90,470.32 L365.40,469.95 L366.90,469.62 L368.40,469.36 L369.90,469.21 L371.40,469.12 L372.90,469.04 L374.40,468.97 L375.90,468.90 L377.40,468.84 L378.90,468.78 L380.40,468.74 L381.90,468.70 L383.40,468.68 L384.90,468.68 L386.40,468.69 L387.90,468.72 L389.40,468.75 L390.90,468.80 L392.40,468.85 L393.90,468.90 L395.40,468.96 L396.90,469.01 L398.40,469.06 L399.90,469.10 L401.40,469.10 L402.90,469.05 L404.40,468.95 L405.90,468.81 L407.40,468.64 L408.90,468.46 L410.40,468.27 L411.90,468.08 L413.40,467.91 L414.90,467.76 L416.40,467.66 L417.90,467.59 L419.40,467.59 L420.90,467.65 L422.40,467.78 L423.90,467.92 L425.40,468.06 L426.90,468.21 L428.40,468.36 L429.90,468.51 L431.40,468.67 L432.90,468.82 L434.40,468.98 L435.90,469.14 L437.40,469.30 L438.90,469.46 L440.40,469.62 L441.90,469.78 L443.40,469.93 L444.90,470.09 L446.40,470.24 L447.90,470.38 L449.40,470.48 L450.90,470.53 L452.40,470.55 L453.90,470.53 L455.40,470.48 L456.90,470.40 L458.40,470.29 L459.90,470.16 L461.40,470.02 L462.90,469.86 L464.40,469.69 L465.90,469.51 L467.40,469.33 L468.90,469.15 L470.40,468.98 L471.90,468.81 L473.40,468.64 L474.90,468.44 L476.40,468.21 L477.90,467.96 L479.40,467.68 L480.90,467.39 L482.40,467.07 L483.90,466.73 L485.40,466.37 L486.90,466.00 L488.40,465.60 L489.90,465.20 L491.40,464.78 L492.90,464.34 L494.40,463.90 L495.90,463.44 L497.00,463.10 L497.00,520.10 L495.90,519.38 L494.40,518.42 L492.90,517.47 L491.40,516.54 L489.90,515.63 L488.40,514.74 L486.90,513.88 L485.40,513.04 L483.90,512.22 L482.40,511.43 L480.90,510.67 L479.40,509.94 L477.90,509.23 L476.40,508.57 L474.90,507.93 L473.40,507.33 L471.90,506.76 L470.40,506.21 L468.90,505.66 L467.40,505.12 L465.90,504.58 L464.40,504.04 L462.90,503.53 L461.40,503.03 L459.90,502.54 L458.40,502.09 L456.90,501.65 L455.40,501.25 L453.90,500.88 L452.40,500.55 L450.90,500.25 L449.40,500.00 L447.90,499.80 L446.40,499.64 L444.90,499.50 L443.40,499.37 L441.90,499.24 L440.40,499.12 L438.90,499.00 L437.40,498.89 L435.90,498.78 L434.40,498.68 L432.90,498.57 L431.40,498.47 L429.90,498.36 L428.40,498.25 L426.90,498.14 L425.40,498.03 L423.90,497.91 L422.40,497.78 L420.90,497.64 L419.40,497.43 L417.90,497.15 L416.40,496.80 L414.90,496.41 L413.40,495.97 L411.90,495.52 L410.40,495.05 L408.90,494.59 L407.40,494.13 L405.90,493.70 L404.40,493.31 L402.90,492.97 L401.40,492.69 L399.90,492.49 L398.40,492.32 L396.90,492.14 L395.40,491.97 L393.90,491.80 L392.40,491.64 L390.90,491.48 L389.40,491.34 L387.90,491.21 L386.40,491.10 L384.90,491.01 L383.40,490.94 L381.90,490.90 L380.40,490.88 L378.90,490.88 L377.40,490.90 L375.90,490.93 L374.40,490.98 L372.90,491.04 L371.40,491.12 L369.90,491.21 L368.40,491.36 L366.90,491.62 L365.40,491.95 L363.90,492.32 L362.40,492.70 L360.90,493.11 L359.40,493.61 L357.90,494.17 L356.40,494.74 L354.90,495.28 L353.40,495.75 L351.90,496.16 L350.40,496.59 L348.90,497.00 L347.40,497.35 L345.90,497.60 L344.40,497.70 L342.90,497.09 L341.40,495.40 L339.90,493.03 L338.40,490.47 L336.90,488.27 L335.40,486.95 L333.90,486.99 L332.40,487.95 L330.90,488.72 L329.40,488.17 L327.90,485.87 L326.40,482.33 L324.90,478.14 L323.40,473.85 L321.90,469.35 L320.40,464.10 L318.90,458.35Z" stroke="none" stroke-width="0" fill="#999999" fill-opacity="0.40"/>
<path d="M318.90,447.50 L319.90,444.33 L320.90,441.57 L321.90,439.46 L322.90,438.15 L323.90,437.11 L324.90,436.29 L325.90,435.79 L326.90,435.78 L327.90,436.47 L328.90,437.52 L329.90,438.47 L330.90,439.37 L331.90,440.30 L332.90,441.16 L333.90,441.86 L334.90,442.43 L335.90,442.93 L336.90,443.37 L337.90,443.76 L338.90,444.11 L339.90,444.40 L340.90,444.67 L341.90,444.95 L342.90,445.27 L343.90,445.64 L344.90,446.06 L345.90,446.52 L346.90,446.99 L347.90,447.45 L348.90,447.88 L349.90,448.26 L350.90,448.61 L351.90,448.94 L352.90,449.27 L353.90,449.58 L354.90,449.88 L355.90,450.18 L356.90,450.46 L357.90,450.74 L358.90,451.01 L359.90,451.27 L360.90,451.53 L361.90,451.78 L362.90,452.02 L363.90,452.26 L364.90,452.49 L365.90,452.72 L366.90,452.94 L367.90,453.16 L368.90,453.37 L369.90,453.58 L370.90,453.78 L371.90,453.97 L372.90,454.17 L373.90,454.36 L374.90,454.55 L375.90,454.74 L376.90,454.92 L377.90,455.10 L378.90,455.29 L379.90,455.47 L380.90,455.65 L381.90,455.84 L382.90,456.02 L383.90,456.19 L384.90,456.37 L385.90,456.54 L386.90,456.71 L387.90,456.88 L388.90,457.05 L389.90,457.21 L390.90,457.38 L391.90,457.55 L392.90,457.71 L393.90,457.88 L394.90,458.04 L395.90,458.21 L396.90,458.38 L397.90,458.54 L398.90,458.71 L399.90,458.88 L400.90,459.05 L401.90,459.23 L402.90,459.40 L403.90,459.57 L404.90,459.74 L405.90,459.91 L406.90,460.08 L407.90,460.26 L408.90,460.43 L409.90,460.60 L410.90,460.77 L411.90,460.94 L412.90,461.12 L413.90,461.29 L414.90,461.46 L415.90,461.63 L416.90,461.81 L417.90,461.98 L418.90,462.15 L419.90,462.32 L420.90,462.50 L421.90,462.67 L422.90,462.84 L423.90,463.01 L424.90,463.19 L425.90,463.36 L426.90,463.53 L427.90,463.71 L428.90,463.88 L429.90,464.05 L430.90,464.23 L431.90,464.40 L432.90,464.57 L433.90,464.75 L434.90,464.92 L435.90,465.09 L436.90,465.27 L437.90,465.44 L438.90,465.61 L439.90,465.78 L440.90,465.96 L441.90,466.13 L442.90,466.30 L443.90,466.47 L444.90,466.64 L445.90,466.81 L446.90,466.98 L447.90,467.15 L448.90,467.33 L449.90,467.50 L450.90,467.68 L451.90,467.85 L452.90,468.03 L453.90,468.20 L454.90,468.38 L455.90,468.56 L456.90,468.74 L457.90,468.91 L458.90,469.09 L459.90,469.26 L460.90,469.43 L461.90,469.61 L462.90,469.78 L463.90,469.94 L464.90,470.11 L465.90,470.27 L466.90,470.43 L467.90,470.59 L468.90,470.74 L469.90,470.90 L470.90,471.04 L471.90,471.19 L472.90,471.33 L473.90,471.47 L474.90,471.60 L475.90,471.74 L476.90,471.88 L477.90,472.01 L478.90,472.15 L479.90,472.28 L480.90,472.41 L481.90,472.54 L482.90,472.67 L483.90,472.79 L484.90,472.92 L485.90,473.04 L486.90,473.16 L487.90,473.29 L488.90,473.40 L489.90,473.52 L490.90,473.64 L491.90,473.75 L492.90,473.86 L493.90,473.97 L494.90,474.08 L495.90,474.19 L496.90,474.29 L497.90,474.39 L498.90,474.50 L499.90,474.59 L500.90,474.69 L501.00,474.70" stroke="#d6605a" stroke-width="1.6" fill="none" stroke-linecap="round" stroke-linejoin="round"/>
<path d="M318.90,454.40 L319.90,457.79 L320.90,461.01 L321.90,463.99 L322.90,466.64 L323.90,469.03 L324.90,471.50 L325.90,473.95 L326.90,476.21 L327.90,478.11 L328.90,479.49 L329.90,480.16 L330.90,480.02 L331.90,479.31 L332.90,478.36 L333.90,477.48 L334.90,477.02 L335.90,477.21 L336.90,477.97 L337.90,479.15 L338.90,480.60 L339.90,482.17 L340.90,483.70 L341.90,485.06 L342.90,486.09 L343.90,486.65 L344.90,486.69 L345.90,486.60 L346.90,486.45 L347.90,486.25 L348.90,486.00 L349.90,485.73 L350.90,485.45 L351.90,485.16 L352.90,484.88 L353.90,484.60 L354.90,484.28 L355.90,483.93 L356.90,483.55 L357.90,483.17 L358.90,482.80 L359.90,482.44 L360.90,482.11 L361.90,481.83 L362.90,481.57 L363.90,481.32 L364.90,481.07 L365.90,480.83 L366.90,480.62 L367.90,480.44 L368.90,480.30 L369.90,480.21 L370.90,480.15 L371.90,480.09 L372.90,480.04 L373.90,479.99 L374.90,479.95 L375.90,479.91 L376.90,479.88 L377.90,479.85 L378.90,479.83 L379.90,479.81 L380.90,479.80 L381.90,479.80 L382.90,479.80 L383.90,479.82 L384.90,479.84 L385.90,479.88 L386.90,479.92 L387.90,479.96 L388.90,480.02 L389.90,480.08 L390.90,480.14 L391.90,480.21 L392.90,480.28 L393.90,480.35 L394.90,480.43 L395.90,480.50 L396.90,480.58 L397.90,480.65 L398.90,480.72 L399.90,480.79 L400.90,480.86 L401.90,480.94 L402.90,481.01 L403.90,481.09 L404.90,481.17 L405.90,481.26 L406.90,481.34 L407.90,481.43 L408.90,481.52 L409.90,481.61 L410.90,481.71 L411.90,481.80 L412.90,481.89 L413.90,481.99 L414.90,482.09 L415.90,482.18 L416.90,482.28 L417.90,482.37 L418.90,482.46 L419.90,482.56 L420.90,482.65 L421.90,482.74 L422.90,482.82 L423.90,482.91 L424.90,483.00 L425.90,483.09 L426.90,483.18 L427.90,483.26 L428.90,483.35 L429.90,483.44 L430.90,483.52 L431.90,483.61 L432.90,483.70 L433.90,483.79 L434.90,483.87 L435.90,483.96 L436.90,484.05 L437.90,484.14 L438.90,484.23 L439.90,484.32 L440.90,484.41 L441.90,484.51 L442.90,484.60 L443.90,484.70 L444.90,484.79 L445.90,484.89 L446.90,484.99 L447.90,485.09 L448.90,485.19 L449.90,485.29 L450.90,485.39 L451.90,485.50 L452.90,485.60 L453.90,485.71 L454.90,485.81 L455.90,485.92 L456.90,486.03 L457.90,486.13 L458.90,486.24 L459.90,486.35 L460.90,486.47 L461.90,486.58 L462.90,486.69 L463.90,486.81 L464.90,486.93 L465.90,487.04 L466.90,487.16 L467.90,487.29 L468.90,487.41 L469.90,487.53 L470.90,487.66 L471.90,487.79 L472.90,487.92 L473.90,488.05 L474.90,488.18 L475.90,488.32 L476.90,488.46 L477.90,488.60 L478.90,488.74 L479.90,488.88 L480.90,489.03 L481.90,489.17 L482.90,489.32 L483.90,489.47 L484.90,489.63 L485.90,489.78 L486.90,489.94 L487.90,490.09 L488.90,490.25 L489.90,490.41 L490.90,490.58 L491.90,490.74 L492.90,490.91 L493.90,491.07 L494.90,491.24 L495.90,491.41 L496.90,491.58 L497.00,491.60" stroke="#45a8b1" stroke-width="1.6" fill="none" stroke-linecap="round" stroke-linejoin="round"/>
<line x1="309.30" y1="465.00" x2="513.00" y2="465.00" stroke="#222" stroke-width="1.1" stroke-dasharray="3.1 2.3"/>
<rect x="309.30" y="397.40" width="203.70" height="129.10" stroke="#1a1a1a" stroke-width="1.5" fill="none"/>
<line x1="306.10" y1="504.75" x2="309.30" y2="504.75" stroke="#1a1a1a" stroke-width="1.1"/>
<text x="299.00" y="507.05" font-size="6.3" text-anchor="end" fill="#333" stroke="#333" stroke-width="0.12" textLength="6.9" lengthAdjust="spacingAndGlyphs">10</text>
<text x="299.10" y="504.55" font-size="4.2" text-anchor="start" fill="#333" stroke="#333" stroke-width="0.08">-2</text>
<line x1="306.10" y1="478.25" x2="309.30" y2="478.25" stroke="#1a1a1a" stroke-width="1.1"/>
<text x="301.00" y="480.55" font-size="6.3" text-anchor="end" fill="#333" stroke="#333" stroke-width="0.12" textLength="6.9" lengthAdjust="spacingAndGlyphs">10</text>
<text x="301.10" y="478.05" font-size="4.2" text-anchor="start" fill="#333" stroke="#333" stroke-width="0.08">0</text>
<line x1="306.10" y1="451.75" x2="309.30" y2="451.75" stroke="#1a1a1a" stroke-width="1.1"/>
<text x="301.00" y="454.05" font-size="6.3" text-anchor="end" fill="#333" stroke="#333" stroke-width="0.12" textLength="6.9" lengthAdjust="spacingAndGlyphs">10</text>
<text x="301.10" y="451.55" font-size="4.2" text-anchor="start" fill="#333" stroke="#333" stroke-width="0.08">2</text>
<line x1="306.10" y1="425.25" x2="309.30" y2="425.25" stroke="#1a1a1a" stroke-width="1.1"/>
<text x="301.00" y="427.55" font-size="6.3" text-anchor="end" fill="#333" stroke="#333" stroke-width="0.12" textLength="6.9" lengthAdjust="spacingAndGlyphs">10</text>
<text x="301.10" y="425.05" font-size="4.2" text-anchor="start" fill="#333" stroke="#333" stroke-width="0.08">4</text>
<line x1="306.10" y1="398.75" x2="309.30" y2="398.75" stroke="#1a1a1a" stroke-width="1.1"/>
<text x="301.00" y="401.05" font-size="6.3" text-anchor="end" fill="#333" stroke="#333" stroke-width="0.12" textLength="6.9" lengthAdjust="spacingAndGlyphs">10</text>
<text x="301.10" y="398.55" font-size="4.2" text-anchor="start" fill="#333" stroke="#333" stroke-width="0.08">6</text>
<line x1="318.50" y1="526.50" x2="318.50" y2="529.50" stroke="#1a1a1a" stroke-width="1.1"/>
<text x="318.50" y="538.80" font-size="6.3" text-anchor="middle" fill="#333" stroke="#333" stroke-width="0.1">0</text>
<line x1="369.92" y1="526.50" x2="369.92" y2="529.50" stroke="#1a1a1a" stroke-width="1.1"/>
<text x="369.92" y="538.80" font-size="6.3" text-anchor="middle" fill="#333" stroke="#333" stroke-width="0.1">100</text>
<line x1="421.34" y1="526.50" x2="421.34" y2="529.50" stroke="#1a1a1a" stroke-width="1.1"/>
<text x="421.34" y="538.80" font-size="6.3" text-anchor="middle" fill="#333" stroke="#333" stroke-width="0.1">200</text>
<line x1="472.76" y1="526.50" x2="472.76" y2="529.50" stroke="#1a1a1a" stroke-width="1.1"/>
<text x="472.76" y="538.80" font-size="6.3" text-anchor="middle" fill="#333" stroke="#333" stroke-width="0.1">300</text>
<text x="411.00" y="549.90" font-size="9.1" text-anchor="middle" fill="#111" stroke="#111" stroke-width="0.05" textLength="78.3" lengthAdjust="spacingAndGlyphs">Days after CART2 infusion</text>
<text x="287.30" y="462.40" font-size="10.0" text-anchor="middle" fill="#111" stroke="#111" stroke-width="0.08" textLength="119.2" lengthAdjust="spacingAndGlyphs" transform="rotate(-90 287.30 462.40)">CAR transgene copies/μg DNA in blood</text>
<text x="331.40" y="385.20" font-size="6.6" text-anchor="start" fill="#111" stroke="#111" stroke-width="0.06" textLength="70.6" lengthAdjust="spacingAndGlyphs">Pre-CART1 lymphodepletion</text>
<rect x="411.70" y="377.20" width="11.10" height="11.60" stroke="none" stroke-width="0" fill="#d9d9d9"/>
<line x1="413.00" y1="383.00" x2="421.50" y2="383.00" stroke="#d6605a" stroke-width="1.4"/>
<text x="425.60" y="385.20" font-size="6.6" text-anchor="start" fill="#111" stroke="#111" stroke-width="0.06" textLength="16.2" lengthAdjust="spacingAndGlyphs">Cy-Flu</text>
<rect x="451.50" y="377.20" width="11.10" height="11.60" stroke="none" stroke-width="0" fill="#d9d9d9"/>
<line x1="452.80" y1="383.00" x2="461.30" y2="383.00" stroke="#45a8b1" stroke-width="1.4"/>
<text x="465.40" y="385.20" font-size="6.6" text-anchor="start" fill="#111" stroke="#111" stroke-width="0.06" textLength="25.9" lengthAdjust="spacingAndGlyphs">No Cy-Flu</text>
<rect x="0.5" y="0.5" width="519" height="559" fill="none" stroke="#000" stroke-width="1.2"/>
</svg>
</body></html>
